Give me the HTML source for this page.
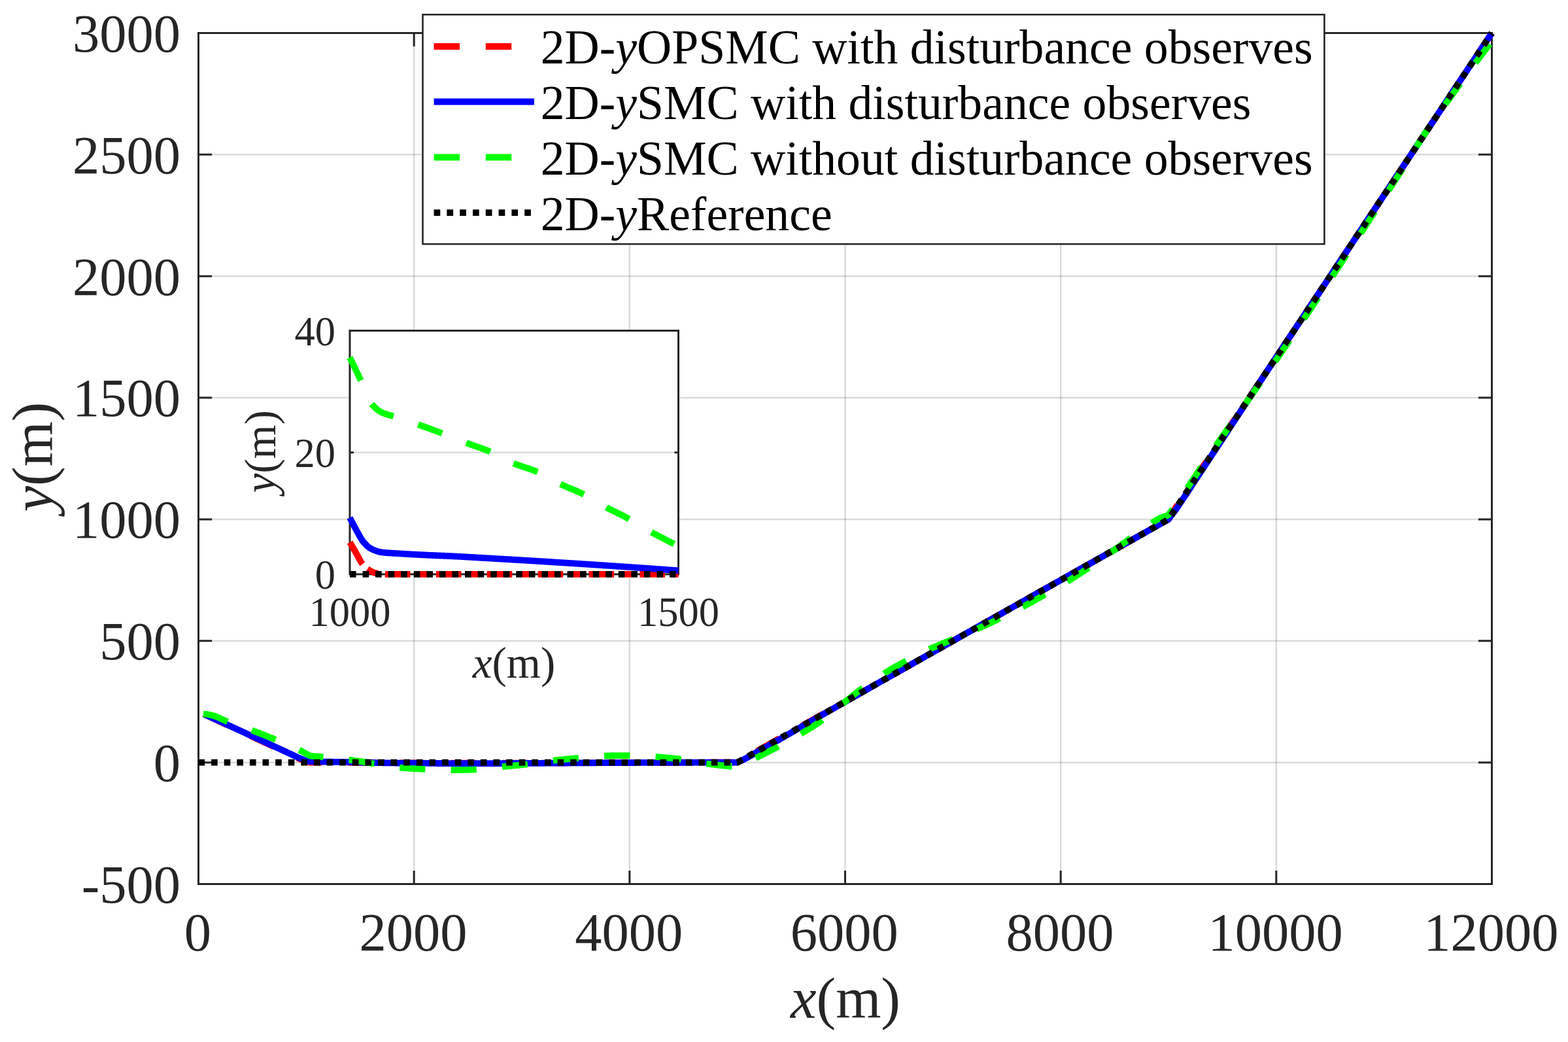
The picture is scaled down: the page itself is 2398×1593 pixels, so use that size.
<!DOCTYPE html><html><head><meta charset="utf-8"><title>plot</title><style>html,body{margin:0;padding:0;background:#fff;}svg{display:block;}</style></head><body><svg width="2398" height="1593" viewBox="0 0 2398 1593"><rect x="0" y="0" width="2398" height="1593" fill="#fff"/><defs><clipPath id="cm"><rect x="297.50" y="44.50" width="1990.00" height="1313.00"/></clipPath></defs><path d="M633.17 50.50V1351.50M962.83 50.50V1351.50M1292.50 50.50V1351.50M1622.17 50.50V1351.50M1951.83 50.50V1351.50" stroke="#262626" stroke-opacity="0.17" stroke-width="2.5" fill="none"/><path d="M303.50 1165.64H2281.50M303.50 979.79H2281.50M303.50 793.93H2281.50M303.50 608.07H2281.50M303.50 422.21H2281.50M303.50 236.36H2281.50" stroke="#262626" stroke-opacity="0.17" stroke-width="2.5" fill="none"/><path d="M303.50 1351.50v-20.60M303.50 50.50v20.60M633.17 1351.50v-20.60M633.17 50.50v20.60M962.83 1351.50v-20.60M962.83 50.50v20.60M1292.50 1351.50v-20.60M1292.50 50.50v20.60M1622.17 1351.50v-20.60M1622.17 50.50v20.60M1951.83 1351.50v-20.60M1951.83 50.50v20.60M2281.50 1351.50v-20.60M2281.50 50.50v20.60M303.50 1351.50h20.60M2281.50 1351.50h-20.60M303.50 1165.64h20.60M2281.50 1165.64h-20.60M303.50 979.79h20.60M2281.50 979.79h-20.60M303.50 793.93h20.60M2281.50 793.93h-20.60M303.50 608.07h20.60M2281.50 608.07h-20.60M303.50 422.21h20.60M2281.50 422.21h-20.60M303.50 236.36h20.60M2281.50 236.36h-20.60M303.50 50.50h20.60M2281.50 50.50h-20.60" stroke="#262626" stroke-width="3" fill="none"/><rect x="303.50" y="50.50" width="1978.00" height="1301.00" stroke="#262626" stroke-width="3" fill="none"/><g font-family="Liberation Serif, Times New Roman, serif" font-size="82.5" fill="#262626"><text x="302.30" y="1452.9" text-anchor="middle">0</text><text x="631.97" y="1452.9" text-anchor="middle">2000</text><text x="961.63" y="1452.9" text-anchor="middle">4000</text><text x="1291.30" y="1452.9" text-anchor="middle">6000</text><text x="1620.97" y="1452.9" text-anchor="middle">8000</text><text x="1950.63" y="1452.9" text-anchor="middle">10000</text><text x="2280.30" y="1452.9" text-anchor="middle">12000</text><text x="275.9" y="1379.80" text-anchor="end">-500</text><text x="275.9" y="1193.94" text-anchor="end">0</text><text x="275.9" y="1008.09" text-anchor="end">500</text><text x="275.9" y="822.23" text-anchor="end">1000</text><text x="275.9" y="636.37" text-anchor="end">1500</text><text x="275.9" y="450.51" text-anchor="end">2000</text><text x="275.9" y="264.66" text-anchor="end">2500</text><text x="275.9" y="78.80" text-anchor="end">3000</text></g><text x="1293" y="1556.3" text-anchor="middle" font-family="Liberation Serif, Times New Roman, serif" font-size="89" fill="#262626"><tspan font-style="italic">x</tspan>(m)</text><text transform="translate(79.5 698.5) rotate(-90)" text-anchor="middle" font-family="Liberation Serif, Times New Roman, serif" font-size="89" fill="#262626"><tspan font-style="italic">y</tspan>(m)</text><g clip-path="url(#cm)" fill="none" stroke-width="9.8" stroke-linejoin="round"><path d="M311.74 1091.67L312.57 1092.06L313.39 1092.44L314.21 1092.83L315.04 1093.21L315.86 1093.60L316.69 1093.98L317.51 1094.37L318.33 1094.75L319.16 1095.14L319.98 1095.52L320.81 1095.91L321.63 1096.29L322.46 1096.68L323.28 1097.06L324.10 1097.45L324.93 1097.83L325.75 1098.22L326.58 1098.60L327.40 1098.98L328.23 1099.37L329.05 1099.75L329.87 1100.14L330.70 1100.52L331.52 1100.91L332.35 1101.29L333.17 1101.68L333.99 1102.06L334.82 1102.44L335.64 1102.83L336.47 1103.21L337.29 1103.60L338.12 1103.98L338.94 1104.37L339.76 1104.75L340.59 1105.13L341.41 1105.52L342.24 1105.90L343.06 1106.29L343.88 1106.67L344.71 1107.05L345.53 1107.44L346.36 1107.82L347.18 1108.21L348.00 1108.59L348.83 1108.97L349.65 1109.36L350.48 1109.74L351.30 1110.13L352.13 1110.51L352.95 1110.89L353.77 1111.28L354.60 1111.66L355.42 1112.05L356.25 1112.43L357.07 1112.81L357.89 1113.20L358.72 1113.58L359.54 1113.97L360.37 1114.35L361.19 1114.74L362.02 1115.12L362.84 1115.50L363.66 1115.89L364.49 1116.27L365.31 1116.66L366.14 1117.04L366.96 1117.42L367.78 1117.81L368.61 1118.19L369.43 1118.58L370.26 1118.96L371.08 1119.34L371.91 1119.73L372.73 1120.11L373.55 1120.50L374.38 1120.88L375.20 1121.27L376.03 1121.65L376.85 1122.03L377.68 1122.42L378.50 1122.80L379.32 1123.19L380.15 1123.57L380.97 1123.95L381.80 1124.34L382.62 1124.72L383.44 1125.11L384.27 1125.49L385.09 1125.87L385.92 1126.26L386.74 1126.64L387.56 1127.03L388.39 1127.41L389.21 1127.80L390.04 1128.18L390.86 1128.56L391.69 1128.95L392.51 1129.33L393.33 1129.72L394.16 1130.10L394.98 1130.48L395.81 1130.87L396.63 1131.25L397.45 1131.64L398.28 1132.02L399.10 1132.40L399.93 1132.79L400.75 1133.17L401.58 1133.56L402.40 1133.94L403.22 1134.33L404.05 1134.71L404.87 1135.09L405.70 1135.48L406.52 1135.86L407.35 1136.25L408.17 1136.63L408.99 1137.02L409.82 1137.40L410.64 1137.78L411.47 1138.17L412.29 1138.55L413.11 1138.94L413.94 1139.32L414.76 1139.71L415.59 1140.09L416.41 1140.48L417.24 1140.86L418.06 1141.24L418.88 1141.63L419.71 1142.01L420.53 1142.40L421.36 1142.78L422.18 1143.16L423.00 1143.55L423.83 1143.93L424.65 1144.31L425.48 1144.70L426.30 1145.08L427.12 1145.47L427.95 1145.85L428.77 1146.23L429.60 1146.62L430.42 1147.00L431.25 1147.39L432.07 1147.77L432.89 1148.15L433.72 1148.54L434.54 1148.92L435.37 1149.31L436.19 1149.69L437.01 1150.08L437.84 1150.47L438.66 1150.85L439.49 1151.24L440.31 1151.63L441.14 1152.01L441.96 1152.40L442.78 1152.79L443.61 1153.18L444.43 1153.58L445.26 1153.99L446.08 1154.40L446.90 1154.81L447.73 1155.23L448.55 1155.65L449.38 1156.06L450.20 1156.48L451.03 1156.89L451.85 1157.30L452.67 1157.71L453.50 1158.11L454.32 1158.50L455.15 1158.89L455.97 1159.27L456.79 1159.64L457.62 1159.99L458.44 1160.34L459.27 1160.68L460.09 1161.00L460.92 1161.30L461.74 1161.58L462.56 1161.85L463.39 1162.11L464.21 1162.36L465.04 1162.61L465.86 1162.87L466.69 1163.14L467.51 1163.41L468.33 1163.71L469.16 1164.04L469.98 1164.38L470.81 1164.72L471.63 1165.03L472.45 1165.28L473.28 1165.41L474.10 1165.51L474.93 1165.57L475.75 1165.60L476.57 1165.62L477.40 1165.63L478.22 1165.64L479.05 1165.65L479.87 1165.65L480.70 1165.66L481.52 1165.67L482.34 1165.67L483.17 1165.68L483.99 1165.68L484.82 1165.68L485.64 1165.69L486.47 1165.69L487.29 1165.70L488.11 1165.70L488.94 1165.70L489.76 1165.71L490.59 1165.71L491.41 1165.72L492.23 1165.72L493.06 1165.72L493.88 1165.72L494.71 1165.73L495.53 1165.73L496.36 1165.73L497.18 1165.73L498.00 1165.74L498.83 1165.74L499.65 1165.74L500.48 1165.74L501.30 1165.74L502.12 1165.75L502.95 1165.75L503.77 1165.75L504.60 1165.75L505.42 1165.75L506.25 1165.76L507.07 1165.76L507.89 1165.76L508.72 1165.76L509.54 1165.76L510.37 1165.76L511.19 1165.76L512.01 1165.77L512.84 1165.77L513.66 1165.77L514.49 1165.77L515.31 1165.77L516.13 1165.77L516.96 1165.78L517.78 1165.78L518.61 1165.78L519.43 1165.78L520.26 1165.78L521.08 1165.78L521.90 1165.79L522.73 1165.79L523.55 1165.79L524.38 1165.79L525.20 1165.80L526.02 1165.80L526.85 1165.80L527.67 1165.80L528.50 1165.81L529.32 1165.81L530.15 1165.81L530.97 1165.81L531.79 1165.82L532.62 1165.82L533.44 1165.82L534.27 1165.83L535.09 1165.83L535.91 1165.84L536.74 1165.84L537.56 1165.85L538.39 1165.85L539.21 1165.85L540.04 1165.86L540.86 1165.86L541.68 1165.87L542.51 1165.88L543.33 1165.88L544.16 1165.89L544.98 1165.89L545.81 1165.90L546.63 1165.90L547.45 1165.91L548.28 1165.92L549.10 1165.92L549.93 1165.93L550.75 1165.93L551.57 1165.94L552.40 1165.95L553.22 1165.95L554.05 1165.96L554.87 1165.97L555.69 1165.97L556.52 1165.98L557.34 1165.99L558.17 1166.00L558.99 1166.00L559.82 1166.01L560.64 1166.02L561.46 1166.02L562.29 1166.03L563.11 1166.04L563.94 1166.04L564.76 1166.05L565.59 1166.06L566.41 1166.07L567.23 1166.07L568.06 1166.08L568.88 1166.09L569.71 1166.09L570.53 1166.10L571.35 1166.11L572.18 1166.11L573.00 1166.12L573.83 1166.13L574.65 1166.13L575.48 1166.14L576.30 1166.15L577.12 1166.15L577.95 1166.16L578.77 1166.17L579.60 1166.17L580.42 1166.18L581.24 1166.18L582.07 1166.19L582.89 1166.19L583.72 1166.20L584.54 1166.21L585.37 1166.21L586.19 1166.22L587.01 1166.22L587.84 1166.23L588.66 1166.23L589.49 1166.24L590.31 1166.25L591.13 1166.25L591.96 1166.26L592.78 1166.26L593.61 1166.27L594.43 1166.27L595.25 1166.28L596.08 1166.29L596.90 1166.29L597.73 1166.30L598.55 1166.30L599.38 1166.31L600.20 1166.31L601.02 1166.32L601.85 1166.33L602.67 1166.33L603.50 1166.34L604.32 1166.34L605.14 1166.35L605.97 1166.35L606.79 1166.36L607.62 1166.36L608.44 1166.37L609.27 1166.37L610.09 1166.38L610.91 1166.39L611.74 1166.39L612.56 1166.40L613.39 1166.40L614.21 1166.41L615.04 1166.41L615.86 1166.42L616.68 1166.42L617.51 1166.42L618.33 1166.43L619.16 1166.43L619.98 1166.44L620.80 1166.44L621.63 1166.45L622.45 1166.45L623.28 1166.46L624.10 1166.46L624.92 1166.46L625.75 1166.47L626.57 1166.47L627.40 1166.48L628.22 1166.48L629.05 1166.48L629.87 1166.49L630.69 1166.49L631.52 1166.49L632.34 1166.49L633.17 1166.50L633.99 1166.50L634.82 1166.50L635.64 1166.51L636.46 1166.51L637.29 1166.51L638.11 1166.51L638.94 1166.52L639.76 1166.52L640.58 1166.52L641.41 1166.53L642.23 1166.53L643.06 1166.53L643.88 1166.53L644.70 1166.54L645.53 1166.54L646.35 1166.54L647.18 1166.54L648.00 1166.55L648.83 1166.55L649.65 1166.55L650.47 1166.56L651.30 1166.56L652.12 1166.56L652.95 1166.56L653.77 1166.57L654.60 1166.57L655.42 1166.57L656.24 1166.57L657.07 1166.58L657.89 1166.58L658.72 1166.58L659.54 1166.58L660.36 1166.59L661.19 1166.59L662.01 1166.59L662.84 1166.59L663.66 1166.60L664.49 1166.60L665.31 1166.60L666.13 1166.60L666.96 1166.61L667.78 1166.61L668.61 1166.61L669.43 1166.61L670.25 1166.62L671.08 1166.62L671.90 1166.62L672.73 1166.62L673.55 1166.62L674.38 1166.63L675.20 1166.63L676.02 1166.63L676.85 1166.63L677.67 1166.63L678.50 1166.64L679.32 1166.64L680.14 1166.64L680.97 1166.64L681.79 1166.64L682.62 1166.65L683.44 1166.65L684.26 1166.65L685.09 1166.65L685.91 1166.65L686.74 1166.65L687.56 1166.66L688.39 1166.66L689.21 1166.66L690.03 1166.66L690.86 1166.66L691.68 1166.66L692.51 1166.66L693.33 1166.67L694.15 1166.67L694.98 1166.67L695.80 1166.67L696.63 1166.67L697.45 1166.67L698.28 1166.67L699.10 1166.67L699.92 1166.67L700.75 1166.68L701.57 1166.68L702.40 1166.68L703.22 1166.68L704.05 1166.68L704.87 1166.68L705.69 1166.68L706.52 1166.68L707.34 1166.68L708.17 1166.68L708.99 1166.68L709.81 1166.68L710.64 1166.68L711.46 1166.68L712.29 1166.68L713.11 1166.68L713.93 1166.68L714.76 1166.68L715.58 1166.68L716.41 1166.68L717.23 1166.68L718.06 1166.68L718.88 1166.68L719.70 1166.68L720.53 1166.68L721.35 1166.68L722.18 1166.68L723.00 1166.68L723.83 1166.68L724.65 1166.68L725.47 1166.68L726.30 1166.68L727.12 1166.68L727.95 1166.68L728.77 1166.68L729.59 1166.68L730.42 1166.68L731.24 1166.68L732.07 1166.68L732.89 1166.68L733.71 1166.68L734.54 1166.68L735.36 1166.67L736.19 1166.67L737.01 1166.67L737.84 1166.67L738.66 1166.67L739.48 1166.67L740.31 1166.67L741.13 1166.67L741.96 1166.67L742.78 1166.67L743.61 1166.67L744.43 1166.67L745.25 1166.66L746.08 1166.66L746.90 1166.66L747.73 1166.66L748.55 1166.66L749.37 1166.66L750.20 1166.66L751.02 1166.66L751.85 1166.66L752.67 1166.66L753.50 1166.65L754.32 1166.65L755.14 1166.65L755.97 1166.65L756.79 1166.65L757.62 1166.65L758.44 1166.65L759.26 1166.65L760.09 1166.64L760.91 1166.64L761.74 1166.64L762.56 1166.64L763.38 1166.64L764.21 1166.64L765.03 1166.64L765.86 1166.63L766.68 1166.63L767.51 1166.63L768.33 1166.63L769.15 1166.63L769.98 1166.63L770.80 1166.63L771.63 1166.62L772.45 1166.62L773.27 1166.62L774.10 1166.62L774.92 1166.62L775.75 1166.62L776.57 1166.62L777.40 1166.61L778.22 1166.61L779.04 1166.61L779.87 1166.61L780.69 1166.61L781.52 1166.61L782.34 1166.60L783.16 1166.60L783.99 1166.60L784.81 1166.60L785.64 1166.60L786.46 1166.60L787.29 1166.59L788.11 1166.59L788.93 1166.59L789.76 1166.59L790.58 1166.59L791.41 1166.59L792.23 1166.58L793.06 1166.58L793.88 1166.58L794.70 1166.58L795.53 1166.58L796.35 1166.58L797.18 1166.57L798.00 1166.57L798.82 1166.57L799.65 1166.57L800.47 1166.57L801.30 1166.56L802.12 1166.56L802.94 1166.56L803.77 1166.56L804.59 1166.56L805.42 1166.55L806.24 1166.55L807.07 1166.55L807.89 1166.55L808.71 1166.54L809.54 1166.54L810.36 1166.54L811.19 1166.53L812.01 1166.53L812.84 1166.53L813.66 1166.53L814.48 1166.52L815.31 1166.52L816.13 1166.52L816.96 1166.51L817.78 1166.51L818.60 1166.51L819.43 1166.50L820.25 1166.50L821.08 1166.49L821.90 1166.49L822.73 1166.49L823.55 1166.48L824.37 1166.48L825.20 1166.48L826.02 1166.47L826.85 1166.47L827.67 1166.46L828.49 1166.46L829.32 1166.46L830.14 1166.45L830.97 1166.45L831.79 1166.44L832.62 1166.44L833.44 1166.44L834.26 1166.43L835.09 1166.43L835.91 1166.42L836.74 1166.42L837.56 1166.41L838.38 1166.41L839.21 1166.41L840.03 1166.40L840.86 1166.40L841.68 1166.39L842.50 1166.39L843.33 1166.38L844.15 1166.38L844.98 1166.38L845.80 1166.37L846.63 1166.37L847.45 1166.36L848.27 1166.36L849.10 1166.35L849.92 1166.35L850.75 1166.34L851.57 1166.34L852.39 1166.34L853.22 1166.33L854.04 1166.33L854.87 1166.32L855.69 1166.32L856.52 1166.31L857.34 1166.31L858.16 1166.31L858.99 1166.30L859.81 1166.30L860.64 1166.29L861.46 1166.29L862.28 1166.28L863.11 1166.28L863.93 1166.28L864.76 1166.27L865.58 1166.27L866.41 1166.26L867.23 1166.26L868.05 1166.26L868.88 1166.25L869.70 1166.25L870.53 1166.24L871.35 1166.24L872.17 1166.24L873.00 1166.23L873.82 1166.23L874.65 1166.22L875.47 1166.22L876.30 1166.22L877.12 1166.21L877.94 1166.21L878.77 1166.21L879.59 1166.20L880.42 1166.20L881.24 1166.20L882.07 1166.19L882.89 1166.19L883.71 1166.19L884.54 1166.18L885.36 1166.18L886.19 1166.18L887.01 1166.17L887.83 1166.17L888.66 1166.17L889.48 1166.16L890.31 1166.16L891.13 1166.16L891.96 1166.15L892.78 1166.15L893.60 1166.15L894.43 1166.14L895.25 1166.14L896.08 1166.14L896.90 1166.13L897.72 1166.13L898.55 1166.13L899.37 1166.12L900.20 1166.12L901.02 1166.12L901.85 1166.11L902.67 1166.11L903.49 1166.11L904.32 1166.11L905.14 1166.10L905.97 1166.10L906.79 1166.10L907.61 1166.09L908.44 1166.09L909.26 1166.09L910.09 1166.08L910.91 1166.08L911.74 1166.08L912.56 1166.07L913.38 1166.07L914.21 1166.07L915.03 1166.06L915.86 1166.06L916.68 1166.06L917.50 1166.05L918.33 1166.05L919.15 1166.05L919.98 1166.05L920.80 1166.04L921.62 1166.04L922.45 1166.04L923.27 1166.03L924.10 1166.03L924.92 1166.03L925.75 1166.02L926.57 1166.02L927.39 1166.02L928.22 1166.01L929.04 1166.01L929.87 1166.01L930.69 1166.01L931.51 1166.00L932.34 1166.00L933.16 1166.00L933.99 1165.99L934.81 1165.99L935.64 1165.99L936.46 1165.99L937.28 1165.98L938.11 1165.98L938.93 1165.98L939.76 1165.97L940.58 1165.97L941.40 1165.97L942.23 1165.97L943.05 1165.96L943.88 1165.96L944.70 1165.96L945.53 1165.96L946.35 1165.95L947.17 1165.95L948.00 1165.95L948.82 1165.94L949.65 1165.94L950.47 1165.94L951.29 1165.94L952.12 1165.93L952.94 1165.93L953.77 1165.93L954.59 1165.93L955.42 1165.92L956.24 1165.92L957.06 1165.92L957.89 1165.92L958.71 1165.91L959.54 1165.91L960.36 1165.91L961.18 1165.91L962.01 1165.91L962.83 1165.90L963.66 1165.90L964.48 1165.90L965.31 1165.90L966.13 1165.89L966.95 1165.89L967.78 1165.89L968.60 1165.89L969.43 1165.88L970.25 1165.88L971.08 1165.88L971.90 1165.88L972.72 1165.88L973.55 1165.87L974.37 1165.87L975.20 1165.87L976.02 1165.87L976.84 1165.86L977.67 1165.86L978.49 1165.86L979.32 1165.86L980.14 1165.86L980.97 1165.85L981.79 1165.85L982.61 1165.85L983.44 1165.85L984.26 1165.84L985.09 1165.84L985.91 1165.84L986.73 1165.84L987.56 1165.84L988.38 1165.83L989.21 1165.83L990.03 1165.83L990.86 1165.83L991.68 1165.83L992.50 1165.82L993.33 1165.82L994.15 1165.82L994.98 1165.82L995.80 1165.81L996.62 1165.81L997.45 1165.81L998.27 1165.81L999.10 1165.81L999.92 1165.80L1000.75 1165.80L1001.57 1165.80L1002.39 1165.80L1003.22 1165.80L1004.04 1165.79L1004.87 1165.79L1005.69 1165.79L1006.51 1165.79L1007.34 1165.79L1008.16 1165.79L1008.99 1165.78L1009.81 1165.78L1010.63 1165.78L1011.46 1165.78L1012.28 1165.78L1013.11 1165.77L1013.93 1165.77L1014.76 1165.77L1015.58 1165.77L1016.40 1165.77L1017.23 1165.77L1018.05 1165.76L1018.88 1165.76L1019.70 1165.76L1020.52 1165.76L1021.35 1165.76L1022.17 1165.76L1023.00 1165.75L1023.82 1165.75L1024.65 1165.75L1025.47 1165.75L1026.29 1165.75L1027.12 1165.75L1027.94 1165.74L1028.77 1165.74L1029.59 1165.74L1030.41 1165.74L1031.24 1165.74L1032.06 1165.74L1032.89 1165.74L1033.71 1165.73L1034.54 1165.73L1035.36 1165.73L1036.18 1165.73L1037.01 1165.73L1037.83 1165.73L1038.66 1165.73L1039.48 1165.73L1040.30 1165.72L1041.13 1165.72L1041.95 1165.72L1042.78 1165.72L1043.60 1165.72L1044.43 1165.72L1045.25 1165.72L1046.07 1165.72L1046.90 1165.72L1047.72 1165.71L1048.55 1165.71L1049.37 1165.71L1050.20 1165.71L1051.02 1165.71L1051.84 1165.71L1052.67 1165.71L1053.49 1165.71L1054.32 1165.71L1055.14 1165.70L1055.96 1165.70L1056.79 1165.70L1057.61 1165.70L1058.44 1165.70L1059.26 1165.70L1060.09 1165.70L1060.91 1165.70L1061.73 1165.70L1062.56 1165.70L1063.38 1165.69L1064.21 1165.69L1065.03 1165.69L1065.85 1165.69L1066.68 1165.69L1067.50 1165.69L1068.33 1165.69L1069.15 1165.69L1069.97 1165.69L1070.80 1165.69L1071.62 1165.68L1072.45 1165.68L1073.27 1165.68L1074.10 1165.68L1074.92 1165.68L1075.74 1165.68L1076.57 1165.68L1077.39 1165.68L1078.22 1165.68L1079.04 1165.68L1079.87 1165.68L1080.69 1165.67L1081.51 1165.67L1082.34 1165.67L1083.16 1165.67L1083.99 1165.67L1084.81 1165.67L1085.63 1165.67L1086.46 1165.67L1087.28 1165.67L1088.11 1165.67L1088.93 1165.67L1089.76 1165.67L1090.58 1165.67L1091.40 1165.66L1092.23 1165.66L1093.05 1165.66L1093.88 1165.66L1094.70 1165.66L1095.52 1165.66L1096.35 1165.66L1097.17 1165.66L1098.00 1165.66L1098.82 1165.66L1099.64 1165.66L1100.47 1165.66L1101.29 1165.66L1102.12 1165.66L1102.94 1165.65L1103.77 1165.65L1104.59 1165.65L1105.41 1165.65L1106.24 1165.65L1107.06 1165.65L1107.89 1165.65L1108.71 1165.65L1109.53 1165.65L1110.36 1165.65L1111.18 1165.65L1112.01 1165.65L1112.83 1165.65L1113.66 1165.65L1114.48 1165.65L1115.30 1165.65L1116.13 1165.65L1116.95 1165.65L1117.78 1165.65L1118.60 1165.65L1119.42 1165.65L1120.25 1165.65L1121.07 1165.64L1121.90 1165.64L1122.72 1165.64L1123.55 1165.64L1124.37 1165.64L1125.19 1165.64L1126.02 1165.64L1126.84 1165.64L1127.67 1165.64L1129.32 1164.64L1130.96 1163.64L1132.61 1162.63L1134.26 1161.63L1135.91 1160.64L1137.56 1159.66L1139.20 1158.70L1140.85 1157.76L1142.50 1156.83L1144.15 1155.90L1145.80 1154.97L1147.45 1154.05L1149.10 1153.12L1150.74 1152.19L1152.39 1151.26L1154.04 1150.33L1155.69 1149.40L1157.34 1148.47L1158.99 1147.54L1160.63 1146.61L1162.28 1145.68L1163.93 1144.75L1165.58 1143.82L1167.23 1142.89L1168.88 1141.96L1170.52 1141.04L1172.17 1140.11L1173.82 1139.18L1175.47 1138.25L1177.12 1137.32L1178.76 1136.39L1180.41 1135.46L1182.06 1134.53L1183.71 1133.60L1185.36 1132.68L1187.01 1131.75L1188.65 1130.82L1190.30 1129.90L1191.95 1128.97L1193.60 1128.05L1195.25 1127.12L1196.90 1126.20L1198.55 1125.27L1200.19 1124.35L1201.84 1123.42L1203.49 1122.50L1205.14 1121.58L1206.79 1120.65L1208.43 1119.73L1210.08 1118.81L1211.73 1117.88L1213.38 1116.96L1215.03 1116.04L1216.68 1115.12L1218.33 1114.19L1219.97 1113.27L1221.62 1112.35L1223.27 1111.43L1224.92 1110.50L1226.57 1109.58L1228.22 1108.66L1229.86 1107.74L1231.51 1106.82L1233.16 1105.89L1234.81 1104.97L1236.46 1104.05L1238.11 1103.13L1239.75 1102.20L1241.40 1101.28L1243.05 1100.36L1244.70 1099.43L1246.35 1098.51L1247.99 1097.59L1249.64 1096.66L1251.29 1095.74L1252.94 1094.81L1254.59 1093.89L1256.24 1092.96L1257.88 1092.04L1259.53 1091.11L1261.18 1090.19L1262.83 1089.26L1264.48 1088.34L1266.13 1087.41L1267.78 1086.49L1269.42 1085.56L1271.07 1084.63L1272.72 1083.71L1274.37 1082.78L1276.02 1081.86L1277.66 1080.93L1279.31 1080.01L1280.96 1079.08L1282.61 1078.16L1284.26 1077.23L1285.91 1076.30L1287.55 1075.38L1289.20 1074.45L1290.85 1073.53L1292.50 1072.60L1294.15 1071.68L1295.80 1070.75L1297.45 1069.82L1299.09 1068.90L1300.74 1067.97L1302.39 1067.05L1304.04 1066.12L1305.69 1065.20L1307.34 1064.27L1308.98 1063.34L1310.63 1062.42L1312.28 1061.49L1313.93 1060.57L1315.58 1059.64L1317.22 1058.71L1318.87 1057.79L1320.52 1056.86L1322.17 1055.93L1323.82 1055.01L1325.47 1054.08L1327.12 1053.16L1328.76 1052.23L1330.41 1051.30L1332.06 1050.38L1333.71 1049.45L1335.36 1048.52L1337.01 1047.59L1338.65 1046.67L1340.30 1045.74L1341.95 1044.81L1343.60 1043.89L1345.25 1042.96L1346.89 1042.03L1348.54 1041.10L1350.19 1040.18L1351.84 1039.25L1353.49 1038.32L1355.14 1037.39L1356.79 1036.47L1358.43 1035.54L1360.08 1034.61L1361.73 1033.68L1363.38 1032.75L1365.03 1031.82L1366.67 1030.89L1368.32 1029.97L1369.97 1029.04L1371.62 1028.11L1373.27 1027.18L1374.92 1026.25L1376.57 1025.32L1378.21 1024.39L1379.86 1023.46L1381.51 1022.53L1383.16 1021.60L1384.81 1020.67L1386.45 1019.75L1388.10 1018.82L1389.75 1017.89L1391.40 1016.96L1393.05 1016.03L1394.70 1015.10L1396.35 1014.17L1397.99 1013.24L1399.64 1012.31L1401.29 1011.38L1402.94 1010.45L1404.59 1009.52L1406.23 1008.59L1407.88 1007.66L1409.53 1006.74L1411.18 1005.81L1412.83 1004.88L1414.48 1003.95L1416.12 1003.02L1417.77 1002.09L1419.42 1001.16L1421.07 1000.23L1422.72 999.30L1424.37 998.37L1426.02 997.44L1427.66 996.51L1429.31 995.58L1430.96 994.65L1432.61 993.73L1434.26 992.80L1435.90 991.87L1437.55 990.94L1439.20 990.01L1440.85 989.08L1442.50 988.15L1444.15 987.22L1445.80 986.29L1447.44 985.36L1449.09 984.43L1450.74 983.50L1452.39 982.57L1454.04 981.64L1455.68 980.71L1457.33 979.79L1458.98 978.86L1460.63 977.93L1462.28 977.00L1463.93 976.07L1465.58 975.14L1467.22 974.21L1468.87 973.28L1470.52 972.35L1472.17 971.42L1473.82 970.49L1475.46 969.56L1477.11 968.63L1478.76 967.70L1480.41 966.78L1482.06 965.85L1483.71 964.92L1485.36 963.99L1487.00 963.06L1488.65 962.13L1490.30 961.20L1491.95 960.27L1493.60 959.34L1495.24 958.41L1496.89 957.48L1498.54 956.55L1500.19 955.62L1501.84 954.69L1503.49 953.77L1505.13 952.84L1506.78 951.91L1508.43 950.98L1510.08 950.05L1511.73 949.12L1513.38 948.19L1515.03 947.26L1516.67 946.33L1518.32 945.40L1519.97 944.47L1521.62 943.54L1523.27 942.61L1524.91 941.68L1526.56 940.76L1528.21 939.83L1529.86 938.90L1531.51 937.97L1533.16 937.04L1534.81 936.11L1536.45 935.18L1538.10 934.25L1539.75 933.32L1541.40 932.39L1543.05 931.46L1544.69 930.53L1546.34 929.60L1547.99 928.67L1549.64 927.75L1551.29 926.82L1552.94 925.89L1554.59 924.96L1556.23 924.03L1557.88 923.10L1559.53 922.17L1561.18 921.24L1562.83 920.31L1564.47 919.38L1566.12 918.45L1567.77 917.52L1569.42 916.59L1571.07 915.66L1572.72 914.74L1574.37 913.81L1576.01 912.88L1577.66 911.95L1579.31 911.02L1580.96 910.09L1582.61 909.16L1584.26 908.23L1585.90 907.30L1587.55 906.37L1589.20 905.44L1590.85 904.51L1592.50 903.58L1594.14 902.65L1595.79 901.73L1597.44 900.80L1599.09 899.87L1600.74 898.94L1602.39 898.01L1604.04 897.08L1605.68 896.15L1607.33 895.22L1608.98 894.29L1610.63 893.36L1612.28 892.43L1613.92 891.50L1615.57 890.57L1617.22 889.64L1618.87 888.72L1620.52 887.79L1622.17 886.86L1623.82 885.93L1625.46 885.00L1627.11 884.07L1628.76 883.14L1630.41 882.21L1632.06 881.28L1633.70 880.35L1635.35 879.42L1637.00 878.49L1638.65 877.56L1640.30 876.63L1641.95 875.71L1643.60 874.78L1645.24 873.85L1646.89 872.92L1648.54 871.99L1650.19 871.06L1651.84 870.13L1653.48 869.20L1655.13 868.27L1656.78 867.34L1658.43 866.41L1660.08 865.48L1661.73 864.55L1663.38 863.62L1665.02 862.70L1666.67 861.77L1668.32 860.84L1669.97 859.91L1671.62 858.98L1673.27 858.05L1674.91 857.12L1676.56 856.19L1678.21 855.26L1679.86 854.33L1681.51 853.40L1683.15 852.47L1684.80 851.54L1686.45 850.62L1688.10 849.69L1689.75 848.76L1691.40 847.83L1693.05 846.90L1694.69 845.97L1696.34 845.04L1697.99 844.11L1699.64 843.18L1701.29 842.25L1702.93 841.32L1704.58 840.39L1706.23 839.46L1707.88 838.53L1709.53 837.61L1711.18 836.68L1712.83 835.75L1714.47 834.82L1716.12 833.89L1717.77 832.96L1719.42 832.03L1721.07 831.10L1722.71 830.17L1724.36 829.24L1726.01 828.31L1727.66 827.38L1729.31 826.45L1730.96 825.52L1732.61 824.60L1734.25 823.67L1735.90 822.74L1737.55 821.81L1739.20 820.88L1740.85 819.95L1742.49 819.02L1744.14 818.09L1745.79 817.16L1747.44 816.23L1749.09 815.30L1750.74 814.37L1752.38 813.44L1754.03 812.51L1755.68 811.59L1757.33 810.66L1758.98 809.73L1760.63 808.80L1762.28 807.87L1763.92 806.94L1765.57 806.01L1767.22 805.08L1768.87 804.15L1770.52 803.22L1772.16 802.29L1773.81 801.36L1775.46 800.43L1777.11 799.50L1778.76 798.58L1780.41 797.65L1782.06 796.72L1783.70 795.79L1785.35 794.86L1787.00 793.93L1788.65 791.39L1790.30 788.74L1791.94 786.02L1793.59 783.27L1795.24 780.52L1796.89 777.81L1798.54 775.16L1800.19 772.62L1801.84 770.14L1803.48 767.66L1805.13 765.19L1806.78 762.71L1808.43 760.24L1810.08 757.77L1811.72 755.30L1813.37 752.83L1815.02 750.36L1816.67 747.89L1818.32 745.42L1819.97 742.96L1821.62 740.49L1823.26 738.03L1824.91 735.56L1826.56 733.10L1828.21 730.63L1829.86 728.17L1831.51 725.71L1833.15 723.24L1834.80 720.78L1836.45 718.32L1838.10 715.86L1839.75 713.39L1841.39 710.93L1843.04 708.47L1844.69 706.01L1846.34 703.54L1847.99 701.08L1849.64 698.62L1851.29 696.15L1852.93 693.69L1854.58 691.23L1856.23 688.76L1857.88 686.30L1859.53 683.84L1861.17 681.38L1862.82 678.92L1864.47 676.46L1866.12 674.00L1867.77 671.55L1869.42 669.09L1871.07 666.63L1872.71 664.18L1874.36 661.72L1876.01 659.27L1877.66 656.81L1879.31 654.36L1880.95 651.90L1882.60 649.45L1884.25 646.99L1885.90 644.54L1887.55 642.09L1889.20 639.63L1890.85 637.18L1892.49 634.73L1894.14 632.28L1895.79 629.82L1897.44 627.37L1899.09 624.92L1900.73 622.46L1902.38 620.01L1904.03 617.56L1905.68 615.10L1907.33 612.65L1908.98 610.19L1910.62 607.74L1912.27 605.28L1913.92 602.83L1915.57 600.37L1917.22 597.91L1918.87 595.45L1920.52 593.00L1922.16 590.54L1923.81 588.08L1925.46 585.62L1927.11 583.16L1928.76 580.69L1930.40 578.23L1932.05 575.77L1933.70 573.30L1935.35 570.84L1937.00 568.37L1938.65 565.90L1940.30 563.43L1941.94 560.96L1943.59 558.49L1945.24 556.02L1946.89 553.55L1948.54 551.07L1950.18 548.60L1951.83 546.12L1953.48 543.64L1955.13 541.16L1956.78 538.68L1958.43 536.21L1960.08 533.73L1961.72 531.25L1963.37 528.77L1965.02 526.29L1966.67 523.82L1968.32 521.34L1969.96 518.86L1971.61 516.38L1973.26 513.90L1974.91 511.43L1976.56 508.95L1978.21 506.47L1979.86 503.99L1981.50 501.51L1983.15 499.04L1984.80 496.56L1986.45 494.08L1988.10 491.60L1989.74 489.12L1991.39 486.64L1993.04 484.17L1994.69 481.69L1996.34 479.21L1997.99 476.73L1999.63 474.25L2001.28 471.78L2002.93 469.30L2004.58 466.82L2006.23 464.34L2007.88 461.86L2009.53 459.39L2011.17 456.91L2012.82 454.43L2014.47 451.95L2016.12 449.47L2017.77 447.00L2019.41 444.52L2021.06 442.04L2022.71 439.56L2024.36 437.08L2026.01 434.60L2027.66 432.13L2029.31 429.65L2030.95 427.17L2032.60 424.69L2034.25 422.21L2035.90 419.74L2037.55 417.26L2039.19 414.78L2040.84 412.30L2042.49 409.82L2044.14 407.35L2045.79 404.87L2047.44 402.39L2049.09 399.91L2050.73 397.43L2052.38 394.96L2054.03 392.48L2055.68 390.00L2057.33 387.52L2058.97 385.04L2060.62 382.56L2062.27 380.09L2063.92 377.61L2065.57 375.13L2067.22 372.65L2068.86 370.17L2070.51 367.70L2072.16 365.22L2073.81 362.74L2075.46 360.26L2077.11 357.78L2078.76 355.31L2080.40 352.83L2082.05 350.35L2083.70 347.87L2085.35 345.39L2087.00 342.92L2088.64 340.44L2090.29 337.96L2091.94 335.48L2093.59 333.00L2095.24 330.52L2096.89 328.05L2098.53 325.57L2100.18 323.09L2101.83 320.61L2103.48 318.13L2105.13 315.66L2106.78 313.18L2108.43 310.70L2110.07 308.22L2111.72 305.74L2113.37 303.27L2115.02 300.79L2116.67 298.31L2118.32 295.83L2119.96 293.35L2121.61 290.88L2123.26 288.40L2124.91 285.92L2126.56 283.44L2128.20 280.96L2129.85 278.48L2131.50 276.01L2133.15 273.53L2134.80 271.05L2136.45 268.57L2138.10 266.09L2139.74 263.62L2141.39 261.14L2143.04 258.66L2144.69 256.18L2146.34 253.70L2147.98 251.23L2149.63 248.75L2151.28 246.27L2152.93 243.79L2154.58 241.31L2156.23 238.84L2157.88 236.36L2159.52 233.88L2161.17 231.40L2162.82 228.92L2164.47 226.44L2166.12 223.97L2167.77 221.49L2169.41 219.01L2171.06 216.53L2172.71 214.05L2174.36 211.58L2176.01 209.10L2177.65 206.62L2179.30 204.14L2180.95 201.66L2182.60 199.19L2184.25 196.71L2185.90 194.23L2187.55 191.75L2189.19 189.27L2190.84 186.80L2192.49 184.32L2194.14 181.84L2195.79 179.36L2197.43 176.88L2199.08 174.40L2200.73 171.93L2202.38 169.45L2204.03 166.97L2205.68 164.49L2207.32 162.01L2208.97 159.54L2210.62 157.06L2212.27 154.58L2213.92 152.10L2215.57 149.62L2217.22 147.15L2218.86 144.67L2220.51 142.19L2222.16 139.71L2223.81 137.23L2225.46 134.76L2227.11 132.28L2228.75 129.80L2230.40 127.32L2232.05 124.84L2233.70 122.36L2235.35 119.89L2236.99 117.41L2238.64 114.93L2240.29 112.45L2241.94 109.97L2243.59 107.50L2245.24 105.02L2246.89 102.54L2248.53 100.06L2250.18 97.58L2251.83 95.11L2253.48 92.63L2255.13 90.15L2256.78 87.67L2258.42 85.19L2260.07 82.72L2261.72 80.24L2263.37 77.76L2265.02 75.28L2266.66 72.80L2268.31 70.32L2269.96 67.85L2271.61 65.37L2273.26 62.89L2274.91 60.41L2276.56 57.93L2278.20 55.46L2279.85 52.98L2281.50 50.50" stroke="#ff0000" stroke-dasharray="39.2 39.6"/><path d="M311.74 1091.60L312.57 1091.97L313.39 1092.35L314.21 1092.73L315.04 1093.11L315.86 1093.48L316.69 1093.86L317.51 1094.24L318.33 1094.61L319.16 1094.99L319.98 1095.37L320.81 1095.74L321.63 1096.12L322.46 1096.50L323.28 1096.88L324.10 1097.25L324.93 1097.63L325.75 1098.01L326.58 1098.38L327.40 1098.76L328.23 1099.14L329.05 1099.52L329.87 1099.89L330.70 1100.27L331.52 1100.65L332.35 1101.02L333.17 1101.40L333.99 1101.78L334.82 1102.16L335.64 1102.53L336.47 1102.91L337.29 1103.29L338.12 1103.66L338.94 1104.04L339.76 1104.42L340.59 1104.79L341.41 1105.17L342.24 1105.55L343.06 1105.93L343.88 1106.30L344.71 1106.68L345.53 1107.06L346.36 1107.44L347.18 1107.81L348.00 1108.19L348.83 1108.57L349.65 1108.94L350.48 1109.32L351.30 1109.70L352.13 1110.08L352.95 1110.45L353.77 1110.83L354.60 1111.21L355.42 1111.59L356.25 1111.97L357.07 1112.34L357.89 1112.72L358.72 1113.10L359.54 1113.48L360.37 1113.86L361.19 1114.23L362.02 1114.61L362.84 1114.99L363.66 1115.37L364.49 1115.75L365.31 1116.13L366.14 1116.51L366.96 1116.88L367.78 1117.26L368.61 1117.64L369.43 1118.02L370.26 1118.40L371.08 1118.78L371.91 1119.16L372.73 1119.54L373.55 1119.92L374.38 1120.30L375.20 1120.68L376.03 1121.06L376.85 1121.44L377.68 1121.82L378.50 1122.20L379.32 1122.58L380.15 1122.96L380.97 1123.34L381.80 1123.72L382.62 1124.11L383.44 1124.49L384.27 1124.87L385.09 1125.25L385.92 1125.63L386.74 1126.01L387.56 1126.39L388.39 1126.77L389.21 1127.16L390.04 1127.54L390.86 1127.92L391.69 1128.30L392.51 1128.68L393.33 1129.06L394.16 1129.45L394.98 1129.83L395.81 1130.21L396.63 1130.59L397.45 1130.97L398.28 1131.35L399.10 1131.73L399.93 1132.12L400.75 1132.50L401.58 1132.88L402.40 1133.26L403.22 1133.64L404.05 1134.02L404.87 1134.40L405.70 1134.79L406.52 1135.17L407.35 1135.55L408.17 1135.93L408.99 1136.31L409.82 1136.69L410.64 1137.07L411.47 1137.45L412.29 1137.83L413.11 1138.21L413.94 1138.59L414.76 1138.97L415.59 1139.35L416.41 1139.73L417.24 1140.11L418.06 1140.49L418.88 1140.87L419.71 1141.25L420.53 1141.63L421.36 1142.01L422.18 1142.39L423.00 1142.77L423.83 1143.14L424.65 1143.52L425.48 1143.90L426.30 1144.28L427.12 1144.66L427.95 1145.03L428.77 1145.41L429.60 1145.79L430.42 1146.17L431.25 1146.55L432.07 1146.93L432.89 1147.30L433.72 1147.68L434.54 1148.06L435.37 1148.44L436.19 1148.82L437.01 1149.20L437.84 1149.58L438.66 1149.96L439.49 1150.34L440.31 1150.71L441.14 1151.10L441.96 1151.48L442.78 1151.86L443.61 1152.24L444.43 1152.63L445.26 1153.02L446.08 1153.41L446.90 1153.81L447.73 1154.20L448.55 1154.60L449.38 1155.00L450.20 1155.39L451.03 1155.79L451.85 1156.18L452.67 1156.57L453.50 1156.96L454.32 1157.34L455.15 1157.72L455.97 1158.10L456.79 1158.47L457.62 1158.83L458.44 1159.19L459.27 1159.54L460.09 1159.88L460.92 1160.22L461.74 1160.55L462.56 1160.89L463.39 1161.21L464.21 1161.52L465.04 1161.82L465.86 1162.11L466.69 1162.37L467.51 1162.61L468.33 1162.84L469.16 1163.05L469.98 1163.26L470.81 1163.48L471.63 1163.67L472.45 1163.85L473.28 1164.00L474.10 1164.11L474.93 1164.20L475.75 1164.27L476.57 1164.31L477.40 1164.34L478.22 1164.36L479.05 1164.37L479.87 1164.38L480.70 1164.40L481.52 1164.41L482.34 1164.42L483.17 1164.43L483.99 1164.45L484.82 1164.46L485.64 1164.47L486.47 1164.48L487.29 1164.49L488.11 1164.50L488.94 1164.51L489.76 1164.52L490.59 1164.53L491.41 1164.54L492.23 1164.55L493.06 1164.56L493.88 1164.58L494.71 1164.59L495.53 1164.60L496.36 1164.60L497.18 1164.61L498.00 1164.62L498.83 1164.63L499.65 1164.64L500.48 1164.66L501.30 1164.67L502.12 1164.68L502.95 1164.69L503.77 1164.70L504.60 1164.71L505.42 1164.72L506.25 1164.73L507.07 1164.75L507.89 1164.76L508.72 1164.77L509.54 1164.78L510.37 1164.80L511.19 1164.81L512.01 1164.82L512.84 1164.83L513.66 1164.84L514.49 1164.86L515.31 1164.87L516.13 1164.88L516.96 1164.90L517.78 1164.91L518.61 1164.92L519.43 1164.93L520.26 1164.95L521.08 1164.96L521.90 1164.97L522.73 1164.98L523.55 1165.00L524.38 1165.01L525.20 1165.02L526.02 1165.04L526.85 1165.05L527.67 1165.06L528.50 1165.07L529.32 1165.09L530.15 1165.10L530.97 1165.11L531.79 1165.13L532.62 1165.14L533.44 1165.15L534.27 1165.17L535.09 1165.18L535.91 1165.19L536.74 1165.21L537.56 1165.22L538.39 1165.23L539.21 1165.25L540.04 1165.26L540.86 1165.27L541.68 1165.29L542.51 1165.30L543.33 1165.32L544.16 1165.33L544.98 1165.35L545.81 1165.36L546.63 1165.38L547.45 1165.39L548.28 1165.41L549.10 1165.42L549.93 1165.44L550.75 1165.46L551.57 1165.47L552.40 1165.49L553.22 1165.51L554.05 1165.53L554.87 1165.55L555.69 1165.56L556.52 1165.58L557.34 1165.60L558.17 1165.62L558.99 1165.64L559.82 1165.66L560.64 1165.68L561.46 1165.70L562.29 1165.72L563.11 1165.75L563.94 1165.77L564.76 1165.79L565.59 1165.81L566.41 1165.83L567.23 1165.85L568.06 1165.87L568.88 1165.89L569.71 1165.91L570.53 1165.93L571.35 1165.95L572.18 1165.97L573.00 1165.99L573.83 1166.01L574.65 1166.03L575.48 1166.04L576.30 1166.06L577.12 1166.08L577.95 1166.10L578.77 1166.11L579.60 1166.13L580.42 1166.14L581.24 1166.16L582.07 1166.17L582.89 1166.19L583.72 1166.20L584.54 1166.21L585.37 1166.23L586.19 1166.24L587.01 1166.25L587.84 1166.26L588.66 1166.27L589.49 1166.29L590.31 1166.30L591.13 1166.31L591.96 1166.32L592.78 1166.33L593.61 1166.35L594.43 1166.36L595.25 1166.37L596.08 1166.38L596.90 1166.39L597.73 1166.40L598.55 1166.41L599.38 1166.42L600.20 1166.43L601.02 1166.44L601.85 1166.45L602.67 1166.46L603.50 1166.47L604.32 1166.48L605.14 1166.49L605.97 1166.50L606.79 1166.51L607.62 1166.52L608.44 1166.53L609.27 1166.54L610.09 1166.55L610.91 1166.56L611.74 1166.57L612.56 1166.58L613.39 1166.59L614.21 1166.60L615.04 1166.60L615.86 1166.61L616.68 1166.62L617.51 1166.63L618.33 1166.64L619.16 1166.64L619.98 1166.65L620.80 1166.66L621.63 1166.67L622.45 1166.67L623.28 1166.68L624.10 1166.69L624.92 1166.70L625.75 1166.70L626.57 1166.71L627.40 1166.72L628.22 1166.72L629.05 1166.73L629.87 1166.73L630.69 1166.74L631.52 1166.75L632.34 1166.75L633.17 1166.76L633.99 1166.76L634.82 1166.77L635.64 1166.77L636.46 1166.78L637.29 1166.79L638.11 1166.79L638.94 1166.80L639.76 1166.80L640.58 1166.81L641.41 1166.81L642.23 1166.82L643.06 1166.82L643.88 1166.83L644.70 1166.83L645.53 1166.84L646.35 1166.85L647.18 1166.85L648.00 1166.86L648.83 1166.86L649.65 1166.87L650.47 1166.87L651.30 1166.88L652.12 1166.88L652.95 1166.89L653.77 1166.89L654.60 1166.90L655.42 1166.90L656.24 1166.91L657.07 1166.91L657.89 1166.92L658.72 1166.92L659.54 1166.93L660.36 1166.93L661.19 1166.94L662.01 1166.94L662.84 1166.95L663.66 1166.95L664.49 1166.96L665.31 1166.96L666.13 1166.97L666.96 1166.97L667.78 1166.98L668.61 1166.98L669.43 1166.99L670.25 1166.99L671.08 1167.00L671.90 1167.00L672.73 1167.00L673.55 1167.01L674.38 1167.01L675.20 1167.02L676.02 1167.02L676.85 1167.03L677.67 1167.03L678.50 1167.03L679.32 1167.04L680.14 1167.04L680.97 1167.04L681.79 1167.05L682.62 1167.05L683.44 1167.06L684.26 1167.06L685.09 1167.06L685.91 1167.07L686.74 1167.07L687.56 1167.07L688.39 1167.08L689.21 1167.08L690.03 1167.08L690.86 1167.08L691.68 1167.09L692.51 1167.09L693.33 1167.09L694.15 1167.09L694.98 1167.10L695.80 1167.10L696.63 1167.10L697.45 1167.10L698.28 1167.11L699.10 1167.11L699.92 1167.11L700.75 1167.11L701.57 1167.11L702.40 1167.12L703.22 1167.12L704.05 1167.12L704.87 1167.12L705.69 1167.12L706.52 1167.12L707.34 1167.12L708.17 1167.13L708.99 1167.13L709.81 1167.13L710.64 1167.13L711.46 1167.13L712.29 1167.13L713.11 1167.13L713.93 1167.13L714.76 1167.13L715.58 1167.13L716.41 1167.13L717.23 1167.13L718.06 1167.13L718.88 1167.13L719.70 1167.13L720.53 1167.13L721.35 1167.13L722.18 1167.13L723.00 1167.13L723.83 1167.13L724.65 1167.13L725.47 1167.13L726.30 1167.13L727.12 1167.12L727.95 1167.12L728.77 1167.12L729.59 1167.12L730.42 1167.12L731.24 1167.12L732.07 1167.12L732.89 1167.12L733.71 1167.12L734.54 1167.12L735.36 1167.11L736.19 1167.11L737.01 1167.11L737.84 1167.11L738.66 1167.11L739.48 1167.11L740.31 1167.11L741.13 1167.11L741.96 1167.10L742.78 1167.10L743.61 1167.10L744.43 1167.10L745.25 1167.10L746.08 1167.10L746.90 1167.09L747.73 1167.09L748.55 1167.09L749.37 1167.09L750.20 1167.09L751.02 1167.09L751.85 1167.08L752.67 1167.08L753.50 1167.08L754.32 1167.08L755.14 1167.08L755.97 1167.07L756.79 1167.07L757.62 1167.07L758.44 1167.07L759.26 1167.07L760.09 1167.06L760.91 1167.06L761.74 1167.06L762.56 1167.06L763.38 1167.05L764.21 1167.05L765.03 1167.05L765.86 1167.05L766.68 1167.04L767.51 1167.04L768.33 1167.04L769.15 1167.04L769.98 1167.03L770.80 1167.03L771.63 1167.03L772.45 1167.03L773.27 1167.02L774.10 1167.02L774.92 1167.02L775.75 1167.02L776.57 1167.01L777.40 1167.01L778.22 1167.01L779.04 1167.01L779.87 1167.00L780.69 1167.00L781.52 1167.00L782.34 1167.00L783.16 1166.99L783.99 1166.99L784.81 1166.99L785.64 1166.99L786.46 1166.98L787.29 1166.98L788.11 1166.98L788.93 1166.97L789.76 1166.97L790.58 1166.97L791.41 1166.97L792.23 1166.96L793.06 1166.96L793.88 1166.96L794.70 1166.96L795.53 1166.95L796.35 1166.95L797.18 1166.95L798.00 1166.94L798.82 1166.94L799.65 1166.94L800.47 1166.93L801.30 1166.93L802.12 1166.93L802.94 1166.92L803.77 1166.92L804.59 1166.92L805.42 1166.91L806.24 1166.91L807.07 1166.91L807.89 1166.90L808.71 1166.90L809.54 1166.89L810.36 1166.89L811.19 1166.88L812.01 1166.88L812.84 1166.87L813.66 1166.87L814.48 1166.86L815.31 1166.86L816.13 1166.85L816.96 1166.85L817.78 1166.84L818.60 1166.84L819.43 1166.83L820.25 1166.83L821.08 1166.82L821.90 1166.82L822.73 1166.81L823.55 1166.80L824.37 1166.80L825.20 1166.79L826.02 1166.79L826.85 1166.78L827.67 1166.77L828.49 1166.77L829.32 1166.76L830.14 1166.76L830.97 1166.75L831.79 1166.74L832.62 1166.74L833.44 1166.73L834.26 1166.72L835.09 1166.72L835.91 1166.71L836.74 1166.71L837.56 1166.70L838.38 1166.69L839.21 1166.69L840.03 1166.68L840.86 1166.67L841.68 1166.67L842.50 1166.66L843.33 1166.65L844.15 1166.65L844.98 1166.64L845.80 1166.63L846.63 1166.63L847.45 1166.62L848.27 1166.61L849.10 1166.61L849.92 1166.60L850.75 1166.59L851.57 1166.59L852.39 1166.58L853.22 1166.57L854.04 1166.57L854.87 1166.56L855.69 1166.55L856.52 1166.55L857.34 1166.54L858.16 1166.54L858.99 1166.53L859.81 1166.52L860.64 1166.52L861.46 1166.51L862.28 1166.50L863.11 1166.50L863.93 1166.49L864.76 1166.49L865.58 1166.48L866.41 1166.47L867.23 1166.47L868.05 1166.46L868.88 1166.46L869.70 1166.45L870.53 1166.45L871.35 1166.44L872.17 1166.44L873.00 1166.43L873.82 1166.42L874.65 1166.42L875.47 1166.41L876.30 1166.41L877.12 1166.40L877.94 1166.40L878.77 1166.40L879.59 1166.39L880.42 1166.39L881.24 1166.38L882.07 1166.38L882.89 1166.37L883.71 1166.37L884.54 1166.36L885.36 1166.36L886.19 1166.36L887.01 1166.35L887.83 1166.35L888.66 1166.34L889.48 1166.34L890.31 1166.33L891.13 1166.33L891.96 1166.33L892.78 1166.32L893.60 1166.32L894.43 1166.31L895.25 1166.31L896.08 1166.30L896.90 1166.30L897.72 1166.30L898.55 1166.29L899.37 1166.29L900.20 1166.28L901.02 1166.28L901.85 1166.28L902.67 1166.27L903.49 1166.27L904.32 1166.26L905.14 1166.26L905.97 1166.26L906.79 1166.25L907.61 1166.25L908.44 1166.24L909.26 1166.24L910.09 1166.24L910.91 1166.23L911.74 1166.23L912.56 1166.22L913.38 1166.22L914.21 1166.22L915.03 1166.21L915.86 1166.21L916.68 1166.21L917.50 1166.20L918.33 1166.20L919.15 1166.19L919.98 1166.19L920.80 1166.19L921.62 1166.18L922.45 1166.18L923.27 1166.18L924.10 1166.17L924.92 1166.17L925.75 1166.16L926.57 1166.16L927.39 1166.16L928.22 1166.15L929.04 1166.15L929.87 1166.15L930.69 1166.14L931.51 1166.14L932.34 1166.14L933.16 1166.13L933.99 1166.13L934.81 1166.13L935.64 1166.12L936.46 1166.12L937.28 1166.12L938.11 1166.11L938.93 1166.11L939.76 1166.10L940.58 1166.10L941.40 1166.10L942.23 1166.09L943.05 1166.09L943.88 1166.09L944.70 1166.08L945.53 1166.08L946.35 1166.08L947.17 1166.07L948.00 1166.07L948.82 1166.07L949.65 1166.07L950.47 1166.06L951.29 1166.06L952.12 1166.06L952.94 1166.05L953.77 1166.05L954.59 1166.05L955.42 1166.04L956.24 1166.04L957.06 1166.04L957.89 1166.03L958.71 1166.03L959.54 1166.03L960.36 1166.02L961.18 1166.02L962.01 1166.02L962.83 1166.01L963.66 1166.01L964.48 1166.01L965.31 1166.01L966.13 1166.00L966.95 1166.00L967.78 1166.00L968.60 1165.99L969.43 1165.99L970.25 1165.99L971.08 1165.98L971.90 1165.98L972.72 1165.98L973.55 1165.97L974.37 1165.97L975.20 1165.97L976.02 1165.97L976.84 1165.96L977.67 1165.96L978.49 1165.96L979.32 1165.95L980.14 1165.95L980.97 1165.95L981.79 1165.94L982.61 1165.94L983.44 1165.94L984.26 1165.94L985.09 1165.93L985.91 1165.93L986.73 1165.93L987.56 1165.92L988.38 1165.92L989.21 1165.92L990.03 1165.91L990.86 1165.91L991.68 1165.91L992.50 1165.91L993.33 1165.90L994.15 1165.90L994.98 1165.90L995.80 1165.89L996.62 1165.89L997.45 1165.89L998.27 1165.89L999.10 1165.88L999.92 1165.88L1000.75 1165.88L1001.57 1165.87L1002.39 1165.87L1003.22 1165.87L1004.04 1165.87L1004.87 1165.86L1005.69 1165.86L1006.51 1165.86L1007.34 1165.85L1008.16 1165.85L1008.99 1165.85L1009.81 1165.85L1010.63 1165.84L1011.46 1165.84L1012.28 1165.84L1013.11 1165.84L1013.93 1165.83L1014.76 1165.83L1015.58 1165.83L1016.40 1165.83L1017.23 1165.82L1018.05 1165.82L1018.88 1165.82L1019.70 1165.82L1020.52 1165.81L1021.35 1165.81L1022.17 1165.81L1023.00 1165.81L1023.82 1165.80L1024.65 1165.80L1025.47 1165.80L1026.29 1165.80L1027.12 1165.80L1027.94 1165.79L1028.77 1165.79L1029.59 1165.79L1030.41 1165.79L1031.24 1165.79L1032.06 1165.78L1032.89 1165.78L1033.71 1165.78L1034.54 1165.78L1035.36 1165.78L1036.18 1165.77L1037.01 1165.77L1037.83 1165.77L1038.66 1165.77L1039.48 1165.77L1040.30 1165.76L1041.13 1165.76L1041.95 1165.76L1042.78 1165.76L1043.60 1165.76L1044.43 1165.76L1045.25 1165.75L1046.07 1165.75L1046.90 1165.75L1047.72 1165.75L1048.55 1165.75L1049.37 1165.75L1050.20 1165.75L1051.02 1165.74L1051.84 1165.74L1052.67 1165.74L1053.49 1165.74L1054.32 1165.74L1055.14 1165.74L1055.96 1165.73L1056.79 1165.73L1057.61 1165.73L1058.44 1165.73L1059.26 1165.73L1060.09 1165.73L1060.91 1165.73L1061.73 1165.72L1062.56 1165.72L1063.38 1165.72L1064.21 1165.72L1065.03 1165.72L1065.85 1165.72L1066.68 1165.72L1067.50 1165.71L1068.33 1165.71L1069.15 1165.71L1069.97 1165.71L1070.80 1165.71L1071.62 1165.71L1072.45 1165.71L1073.27 1165.70L1074.10 1165.70L1074.92 1165.70L1075.74 1165.70L1076.57 1165.70L1077.39 1165.70L1078.22 1165.70L1079.04 1165.69L1079.87 1165.69L1080.69 1165.69L1081.51 1165.69L1082.34 1165.69L1083.16 1165.69L1083.99 1165.69L1084.81 1165.69L1085.63 1165.68L1086.46 1165.68L1087.28 1165.68L1088.11 1165.68L1088.93 1165.68L1089.76 1165.68L1090.58 1165.68L1091.40 1165.68L1092.23 1165.68L1093.05 1165.67L1093.88 1165.67L1094.70 1165.67L1095.52 1165.67L1096.35 1165.67L1097.17 1165.67L1098.00 1165.67L1098.82 1165.67L1099.64 1165.67L1100.47 1165.67L1101.29 1165.66L1102.12 1165.66L1102.94 1165.66L1103.77 1165.66L1104.59 1165.66L1105.41 1165.66L1106.24 1165.66L1107.06 1165.66L1107.89 1165.66L1108.71 1165.66L1109.53 1165.66L1110.36 1165.65L1111.18 1165.65L1112.01 1165.65L1112.83 1165.65L1113.66 1165.65L1114.48 1165.65L1115.30 1165.65L1116.13 1165.65L1116.95 1165.65L1117.78 1165.65L1118.60 1165.65L1119.42 1165.65L1120.25 1165.65L1121.07 1165.65L1121.90 1165.65L1122.72 1165.65L1123.55 1165.64L1124.37 1165.64L1125.19 1165.64L1126.02 1165.64L1126.84 1165.64L1127.67 1165.64L1129.32 1164.90L1130.96 1164.16L1132.61 1163.41L1134.26 1162.66L1135.91 1161.88L1137.56 1161.07L1139.20 1160.22L1140.85 1159.32L1142.50 1158.39L1144.15 1157.47L1145.80 1156.54L1147.45 1155.61L1149.10 1154.68L1150.74 1153.75L1152.39 1152.82L1154.04 1151.89L1155.69 1150.96L1157.34 1150.03L1158.99 1149.10L1160.63 1148.17L1162.28 1147.24L1163.93 1146.31L1165.58 1145.38L1167.23 1144.46L1168.88 1143.53L1170.52 1142.60L1172.17 1141.67L1173.82 1140.74L1175.47 1139.81L1177.12 1138.88L1178.76 1137.95L1180.41 1137.02L1182.06 1136.09L1183.71 1135.15L1185.36 1134.22L1187.01 1133.28L1188.65 1132.34L1190.30 1131.40L1191.95 1130.46L1193.60 1129.52L1195.25 1128.58L1196.90 1127.64L1198.55 1126.69L1200.19 1125.75L1201.84 1124.80L1203.49 1123.86L1205.14 1122.91L1206.79 1121.97L1208.43 1121.02L1210.08 1120.07L1211.73 1119.12L1213.38 1118.17L1215.03 1117.22L1216.68 1116.28L1218.33 1115.33L1219.97 1114.38L1221.62 1113.43L1223.27 1112.48L1224.92 1111.53L1226.57 1110.58L1228.22 1109.63L1229.86 1108.68L1231.51 1107.73L1233.16 1106.78L1234.81 1105.83L1236.46 1104.88L1238.11 1103.93L1239.75 1102.99L1241.40 1102.04L1243.05 1101.09L1244.70 1100.15L1246.35 1099.20L1247.99 1098.26L1249.64 1097.31L1251.29 1096.37L1252.94 1095.43L1254.59 1094.49L1256.24 1093.55L1257.88 1092.61L1259.53 1091.67L1261.18 1090.73L1262.83 1089.80L1264.48 1088.86L1266.13 1087.92L1267.78 1086.99L1269.42 1086.05L1271.07 1085.11L1272.72 1084.17L1274.37 1083.24L1276.02 1082.30L1277.66 1081.36L1279.31 1080.43L1280.96 1079.49L1282.61 1078.55L1284.26 1077.61L1285.91 1076.68L1287.55 1075.74L1289.20 1074.80L1290.85 1073.87L1292.50 1072.93L1294.15 1071.99L1295.80 1071.06L1297.45 1070.12L1299.09 1069.18L1300.74 1068.25L1302.39 1067.31L1304.04 1066.38L1305.69 1065.44L1307.34 1064.50L1308.98 1063.57L1310.63 1062.63L1312.28 1061.70L1313.93 1060.76L1315.58 1059.83L1317.22 1058.89L1318.87 1057.96L1320.52 1057.02L1322.17 1056.09L1323.82 1055.15L1325.47 1054.22L1327.12 1053.28L1328.76 1052.35L1330.41 1051.41L1332.06 1050.48L1333.71 1049.54L1335.36 1048.61L1337.01 1047.68L1338.65 1046.74L1340.30 1045.81L1341.95 1044.88L1343.60 1043.94L1345.25 1043.01L1346.89 1042.08L1348.54 1041.15L1350.19 1040.21L1351.84 1039.28L1353.49 1038.35L1355.14 1037.42L1356.79 1036.49L1358.43 1035.55L1360.08 1034.62L1361.73 1033.69L1363.38 1032.76L1365.03 1031.83L1366.67 1030.90L1368.32 1029.97L1369.97 1029.04L1371.62 1028.11L1373.27 1027.18L1374.92 1026.25L1376.57 1025.32L1378.21 1024.39L1379.86 1023.46L1381.51 1022.53L1383.16 1021.60L1384.81 1020.67L1386.45 1019.75L1388.10 1018.82L1389.75 1017.89L1391.40 1016.96L1393.05 1016.03L1394.70 1015.10L1396.35 1014.17L1397.99 1013.24L1399.64 1012.31L1401.29 1011.38L1402.94 1010.45L1404.59 1009.52L1406.23 1008.59L1407.88 1007.66L1409.53 1006.74L1411.18 1005.81L1412.83 1004.88L1414.48 1003.95L1416.12 1003.02L1417.77 1002.09L1419.42 1001.16L1421.07 1000.23L1422.72 999.30L1424.37 998.37L1426.02 997.44L1427.66 996.51L1429.31 995.58L1430.96 994.65L1432.61 993.73L1434.26 992.80L1435.90 991.87L1437.55 990.94L1439.20 990.01L1440.85 989.08L1442.50 988.15L1444.15 987.22L1445.80 986.29L1447.44 985.36L1449.09 984.43L1450.74 983.50L1452.39 982.57L1454.04 981.64L1455.68 980.71L1457.33 979.79L1458.98 978.86L1460.63 977.93L1462.28 977.00L1463.93 976.07L1465.58 975.14L1467.22 974.21L1468.87 973.28L1470.52 972.35L1472.17 971.42L1473.82 970.49L1475.46 969.56L1477.11 968.63L1478.76 967.70L1480.41 966.78L1482.06 965.85L1483.71 964.92L1485.36 963.99L1487.00 963.06L1488.65 962.13L1490.30 961.20L1491.95 960.27L1493.60 959.34L1495.24 958.41L1496.89 957.48L1498.54 956.55L1500.19 955.62L1501.84 954.69L1503.49 953.77L1505.13 952.84L1506.78 951.91L1508.43 950.98L1510.08 950.05L1511.73 949.12L1513.38 948.19L1515.03 947.26L1516.67 946.33L1518.32 945.40L1519.97 944.47L1521.62 943.54L1523.27 942.61L1524.91 941.68L1526.56 940.76L1528.21 939.83L1529.86 938.90L1531.51 937.97L1533.16 937.04L1534.81 936.11L1536.45 935.18L1538.10 934.25L1539.75 933.32L1541.40 932.39L1543.05 931.46L1544.69 930.53L1546.34 929.60L1547.99 928.67L1549.64 927.75L1551.29 926.82L1552.94 925.89L1554.59 924.96L1556.23 924.03L1557.88 923.10L1559.53 922.17L1561.18 921.24L1562.83 920.31L1564.47 919.38L1566.12 918.45L1567.77 917.52L1569.42 916.59L1571.07 915.66L1572.72 914.74L1574.37 913.81L1576.01 912.88L1577.66 911.95L1579.31 911.02L1580.96 910.09L1582.61 909.16L1584.26 908.23L1585.90 907.30L1587.55 906.37L1589.20 905.44L1590.85 904.51L1592.50 903.58L1594.14 902.65L1595.79 901.73L1597.44 900.80L1599.09 899.87L1600.74 898.94L1602.39 898.01L1604.04 897.08L1605.68 896.15L1607.33 895.22L1608.98 894.29L1610.63 893.36L1612.28 892.43L1613.92 891.50L1615.57 890.57L1617.22 889.64L1618.87 888.72L1620.52 887.79L1622.17 886.86L1623.82 885.93L1625.46 885.00L1627.11 884.07L1628.76 883.14L1630.41 882.21L1632.06 881.28L1633.70 880.35L1635.35 879.42L1637.00 878.49L1638.65 877.56L1640.30 876.63L1641.95 875.71L1643.60 874.78L1645.24 873.85L1646.89 872.92L1648.54 871.99L1650.19 871.06L1651.84 870.13L1653.48 869.20L1655.13 868.27L1656.78 867.34L1658.43 866.41L1660.08 865.48L1661.73 864.55L1663.38 863.62L1665.02 862.70L1666.67 861.77L1668.32 860.84L1669.97 859.91L1671.62 858.98L1673.27 858.05L1674.91 857.12L1676.56 856.19L1678.21 855.26L1679.86 854.33L1681.51 853.40L1683.15 852.47L1684.80 851.54L1686.45 850.62L1688.10 849.69L1689.75 848.76L1691.40 847.83L1693.05 846.90L1694.69 845.97L1696.34 845.04L1697.99 844.11L1699.64 843.18L1701.29 842.25L1702.93 841.32L1704.58 840.39L1706.23 839.46L1707.88 838.53L1709.53 837.61L1711.18 836.68L1712.83 835.75L1714.47 834.82L1716.12 833.89L1717.77 832.96L1719.42 832.03L1721.07 831.10L1722.71 830.17L1724.36 829.24L1726.01 828.31L1727.66 827.38L1729.31 826.45L1730.96 825.52L1732.61 824.60L1734.25 823.67L1735.90 822.74L1737.55 821.81L1739.20 820.88L1740.85 819.95L1742.49 819.02L1744.14 818.09L1745.79 817.16L1747.44 816.23L1749.09 815.30L1750.74 814.37L1752.38 813.44L1754.03 812.51L1755.68 811.59L1757.33 810.66L1758.98 809.73L1760.63 808.80L1762.28 807.87L1763.92 806.94L1765.57 806.01L1767.22 805.08L1768.87 804.15L1770.52 803.22L1772.16 802.29L1773.81 801.36L1775.46 800.43L1777.11 799.50L1778.76 798.58L1780.41 797.65L1782.06 796.72L1783.70 795.79L1785.35 794.86L1787.00 793.93L1788.65 791.55L1790.30 789.32L1791.94 787.20L1793.59 785.13L1795.24 783.06L1796.89 780.94L1798.54 778.72L1800.19 776.33L1801.84 773.85L1803.48 771.37L1805.13 768.89L1806.78 766.40L1808.43 763.91L1810.08 761.42L1811.72 758.92L1813.37 756.43L1815.02 753.93L1816.67 751.43L1818.32 748.93L1819.97 746.43L1821.62 743.93L1823.26 741.42L1824.91 738.92L1826.56 736.41L1828.21 733.90L1829.86 731.39L1831.51 728.88L1833.15 726.38L1834.80 723.87L1836.45 721.36L1838.10 718.85L1839.75 716.34L1841.39 713.83L1843.04 711.32L1844.69 708.82L1846.34 706.31L1847.99 703.80L1849.64 701.30L1851.29 698.79L1852.93 696.29L1854.58 693.79L1856.23 691.29L1857.88 688.78L1859.53 686.28L1861.17 683.77L1862.82 681.27L1864.47 678.76L1866.12 676.25L1867.77 673.74L1869.42 671.23L1871.07 668.73L1872.71 666.22L1874.36 663.71L1876.01 661.20L1877.66 658.69L1879.31 656.18L1880.95 653.66L1882.60 651.15L1884.25 648.64L1885.90 646.13L1887.55 643.62L1889.20 641.11L1890.85 638.60L1892.49 636.09L1894.14 633.58L1895.79 631.07L1897.44 628.56L1899.09 626.05L1900.73 623.54L1902.38 621.03L1904.03 618.52L1905.68 616.01L1907.33 613.50L1908.98 610.99L1910.62 608.49L1912.27 605.98L1913.92 603.47L1915.57 600.97L1917.22 598.46L1918.87 595.96L1920.52 593.46L1922.16 590.96L1923.81 588.45L1925.46 585.95L1927.11 583.46L1928.76 580.96L1930.40 578.46L1932.05 575.96L1933.70 573.47L1935.35 570.98L1937.00 568.48L1938.65 565.99L1940.30 563.50L1941.94 561.02L1943.59 558.53L1945.24 556.04L1946.89 553.56L1948.54 551.08L1950.18 548.60L1951.83 546.12L1953.48 543.64L1955.13 541.16L1956.78 538.68L1958.43 536.21L1960.08 533.73L1961.72 531.25L1963.37 528.77L1965.02 526.29L1966.67 523.82L1968.32 521.34L1969.96 518.86L1971.61 516.38L1973.26 513.90L1974.91 511.43L1976.56 508.95L1978.21 506.47L1979.86 503.99L1981.50 501.51L1983.15 499.04L1984.80 496.56L1986.45 494.08L1988.10 491.60L1989.74 489.12L1991.39 486.64L1993.04 484.17L1994.69 481.69L1996.34 479.21L1997.99 476.73L1999.63 474.25L2001.28 471.78L2002.93 469.30L2004.58 466.82L2006.23 464.34L2007.88 461.86L2009.53 459.39L2011.17 456.91L2012.82 454.43L2014.47 451.95L2016.12 449.47L2017.77 447.00L2019.41 444.52L2021.06 442.04L2022.71 439.56L2024.36 437.08L2026.01 434.60L2027.66 432.13L2029.31 429.65L2030.95 427.17L2032.60 424.69L2034.25 422.21L2035.90 419.74L2037.55 417.26L2039.19 414.78L2040.84 412.30L2042.49 409.82L2044.14 407.35L2045.79 404.87L2047.44 402.39L2049.09 399.91L2050.73 397.43L2052.38 394.96L2054.03 392.48L2055.68 390.00L2057.33 387.52L2058.97 385.04L2060.62 382.56L2062.27 380.09L2063.92 377.61L2065.57 375.13L2067.22 372.65L2068.86 370.17L2070.51 367.70L2072.16 365.22L2073.81 362.74L2075.46 360.26L2077.11 357.78L2078.76 355.31L2080.40 352.83L2082.05 350.35L2083.70 347.87L2085.35 345.39L2087.00 342.92L2088.64 340.44L2090.29 337.96L2091.94 335.48L2093.59 333.00L2095.24 330.52L2096.89 328.05L2098.53 325.57L2100.18 323.09L2101.83 320.61L2103.48 318.13L2105.13 315.66L2106.78 313.18L2108.43 310.70L2110.07 308.22L2111.72 305.74L2113.37 303.27L2115.02 300.79L2116.67 298.31L2118.32 295.83L2119.96 293.35L2121.61 290.88L2123.26 288.40L2124.91 285.92L2126.56 283.44L2128.20 280.96L2129.85 278.48L2131.50 276.01L2133.15 273.53L2134.80 271.05L2136.45 268.57L2138.10 266.09L2139.74 263.62L2141.39 261.14L2143.04 258.66L2144.69 256.18L2146.34 253.70L2147.98 251.23L2149.63 248.75L2151.28 246.27L2152.93 243.79L2154.58 241.31L2156.23 238.84L2157.88 236.36L2159.52 233.88L2161.17 231.40L2162.82 228.92L2164.47 226.44L2166.12 223.97L2167.77 221.49L2169.41 219.01L2171.06 216.53L2172.71 214.05L2174.36 211.58L2176.01 209.10L2177.65 206.62L2179.30 204.14L2180.95 201.66L2182.60 199.19L2184.25 196.71L2185.90 194.23L2187.55 191.75L2189.19 189.27L2190.84 186.80L2192.49 184.32L2194.14 181.84L2195.79 179.36L2197.43 176.88L2199.08 174.40L2200.73 171.93L2202.38 169.45L2204.03 166.97L2205.68 164.49L2207.32 162.01L2208.97 159.54L2210.62 157.06L2212.27 154.58L2213.92 152.10L2215.57 149.62L2217.22 147.15L2218.86 144.67L2220.51 142.19L2222.16 139.71L2223.81 137.23L2225.46 134.76L2227.11 132.28L2228.75 129.80L2230.40 127.32L2232.05 124.84L2233.70 122.36L2235.35 119.89L2236.99 117.41L2238.64 114.93L2240.29 112.45L2241.94 109.97L2243.59 107.50L2245.24 105.02L2246.89 102.54L2248.53 100.06L2250.18 97.58L2251.83 95.11L2253.48 92.63L2255.13 90.15L2256.78 87.67L2258.42 85.19L2260.07 82.72L2261.72 80.24L2263.37 77.76L2265.02 75.28L2266.66 72.80L2268.31 70.32L2269.96 67.85L2271.61 65.37L2273.26 62.89L2274.91 60.41L2276.56 57.93L2278.20 55.46L2279.85 52.98L2281.50 50.50" stroke="#0000ff"/><path d="M310.92 1091.49L311.74 1091.55L312.57 1091.62L313.39 1091.70L314.22 1091.79L315.04 1091.90L315.87 1092.01L316.69 1092.13L317.51 1092.26L318.34 1092.40L319.16 1092.54L319.99 1092.69L320.81 1092.85L321.64 1093.01L322.46 1093.18L323.29 1093.35L324.11 1093.53L324.94 1093.73L325.76 1093.96L326.59 1094.20L327.41 1094.47L328.24 1094.74L329.06 1095.04L329.88 1095.35L330.71 1095.67L331.53 1096.00L332.36 1096.34L333.18 1096.69L334.01 1097.05L334.83 1097.41L335.66 1097.78L336.48 1098.16L337.31 1098.53L338.13 1098.91L338.96 1099.28L339.78 1099.66L340.61 1100.03L341.43 1100.40L342.26 1100.76L343.08 1101.12L343.90 1101.47L344.73 1101.81L345.55 1102.14L346.38 1102.46L347.20 1102.77L348.03 1103.08L348.85 1103.39L349.68 1103.70L350.50 1104.00L351.33 1104.31L352.15 1104.61L352.98 1104.91L353.80 1105.21L354.63 1105.51L355.45 1105.81L356.27 1106.11L357.10 1106.40L357.92 1106.70L358.75 1106.99L359.57 1107.29L360.40 1107.58L361.22 1107.87L362.05 1108.17L362.87 1108.46L363.70 1108.75L364.52 1109.04L365.35 1109.33L366.17 1109.62L367.00 1109.92L367.82 1110.21L368.64 1110.50L369.47 1110.79L370.29 1111.08L371.12 1111.38L371.94 1111.67L372.77 1111.96L373.59 1112.26L374.42 1112.55L375.24 1112.85L376.07 1113.14L376.89 1113.44L377.72 1113.74L378.54 1114.04L379.37 1114.34L380.19 1114.64L381.01 1114.94L381.84 1115.24L382.66 1115.55L383.49 1115.85L384.31 1116.16L385.14 1116.47L385.96 1116.78L386.79 1117.09L387.61 1117.40L388.44 1117.72L389.26 1118.03L390.09 1118.34L390.91 1118.66L391.74 1118.97L392.56 1119.29L393.38 1119.60L394.21 1119.92L395.03 1120.24L395.86 1120.55L396.68 1120.87L397.51 1121.19L398.33 1121.51L399.16 1121.83L399.98 1122.15L400.81 1122.47L401.63 1122.79L402.46 1123.12L403.28 1123.44L404.11 1123.76L404.93 1124.09L405.75 1124.42L406.58 1124.74L407.40 1125.07L408.23 1125.40L409.05 1125.73L409.88 1126.05L410.70 1126.39L411.53 1126.72L412.35 1127.05L413.18 1127.38L414.00 1127.71L414.83 1128.05L415.65 1128.38L416.48 1128.72L417.30 1129.06L418.12 1129.40L418.95 1129.74L419.77 1130.08L420.60 1130.42L421.42 1130.76L422.25 1131.10L423.07 1131.45L423.90 1131.79L424.72 1132.13L425.55 1132.48L426.37 1132.82L427.20 1133.16L428.02 1133.51L428.85 1133.85L429.67 1134.20L430.49 1134.54L431.32 1134.89L432.14 1135.24L432.97 1135.58L433.79 1135.93L434.62 1136.28L435.44 1136.63L436.27 1136.98L437.09 1137.34L437.92 1137.69L438.74 1138.04L439.57 1138.40L440.39 1138.76L441.22 1139.11L442.04 1139.47L442.86 1139.84L443.69 1140.20L444.51 1140.56L445.34 1140.93L446.16 1141.30L446.99 1141.67L447.81 1142.04L448.64 1142.41L449.46 1142.79L450.29 1143.16L451.11 1143.54L451.94 1143.93L452.76 1144.31L453.59 1144.70L454.41 1145.09L455.24 1145.48L456.06 1145.87L456.88 1146.27L457.71 1146.67L458.53 1147.07L459.36 1147.47L460.18 1147.89L461.01 1148.31L461.83 1148.73L462.66 1149.17L463.48 1149.61L464.31 1150.05L465.13 1150.50L465.96 1150.95L466.78 1151.41L467.61 1151.86L468.43 1152.31L469.25 1152.78L470.08 1153.24L470.90 1153.71L471.73 1154.22L472.55 1154.75L473.38 1155.16L474.20 1155.39L475.03 1155.56L475.85 1155.69L476.68 1155.81L477.50 1155.91L478.33 1156.00L479.15 1156.08L479.98 1156.15L480.80 1156.22L481.62 1156.29L482.45 1156.35L483.27 1156.41L484.10 1156.48L484.92 1156.54L485.75 1156.61L486.57 1156.68L487.40 1156.76L488.22 1156.83L489.05 1156.90L489.87 1156.97L490.70 1157.04L491.52 1157.12L492.35 1157.19L493.17 1157.27L493.99 1157.34L494.82 1157.42L495.64 1157.49L496.47 1157.57L497.29 1157.65L498.12 1157.72L498.94 1157.80L499.77 1157.87L500.59 1157.95L501.42 1158.03L502.24 1158.11L503.07 1158.19L503.89 1158.27L504.72 1158.36L505.54 1158.45L506.36 1158.54L507.19 1158.63L508.01 1158.72L508.84 1158.81L509.66 1158.89L510.49 1158.97L511.31 1159.05L512.14 1159.12L512.96 1159.20L513.79 1159.28L514.61 1159.36L515.44 1159.45L516.26 1159.54L517.09 1159.65L517.91 1159.75L518.73 1159.85L519.56 1159.96L520.38 1160.06L521.21 1160.16L522.03 1160.25L522.86 1160.33L523.68 1160.41L524.51 1160.50L525.33 1160.58L526.16 1160.67L526.98 1160.77L527.81 1160.88L528.63 1160.99L529.46 1161.11L530.28 1161.23L531.10 1161.35L531.93 1161.46L532.75 1161.57L533.58 1161.67L534.40 1161.77L535.23 1161.87L536.05 1161.96L536.88 1162.06L537.70 1162.16L538.53 1162.26L539.35 1162.37L540.18 1162.49L541.00 1162.61L541.83 1162.73L542.65 1162.85L543.47 1162.97L544.30 1163.08L545.12 1163.19L545.95 1163.30L546.77 1163.41L547.60 1163.52L548.42 1163.63L549.25 1163.74L550.07 1163.86L550.90 1163.98L551.72 1164.10L552.55 1164.22L553.37 1164.35L554.20 1164.48L555.02 1164.61L555.85 1164.74L556.67 1164.87L557.49 1165.01L558.32 1165.16L559.14 1165.31L559.97 1165.45L560.79 1165.61L561.62 1165.76L562.44 1165.91L563.27 1166.06L564.09 1166.21L564.92 1166.36L565.74 1166.50L566.57 1166.65L567.39 1166.78L568.22 1166.92L569.04 1167.06L569.86 1167.20L570.69 1167.34L571.51 1167.48L572.34 1167.63L573.16 1167.77L573.99 1167.91L574.81 1168.06L575.64 1168.20L576.46 1168.35L577.29 1168.49L578.11 1168.64L578.94 1168.78L579.76 1168.93L580.59 1169.07L581.41 1169.22L582.23 1169.36L583.06 1169.50L583.88 1169.65L584.71 1169.79L585.53 1169.93L586.36 1170.07L587.18 1170.21L588.01 1170.35L588.83 1170.49L589.66 1170.62L590.48 1170.76L591.31 1170.89L592.13 1171.03L592.96 1171.16L593.78 1171.29L594.60 1171.41L595.43 1171.54L596.25 1171.66L597.08 1171.79L597.90 1171.91L598.73 1172.02L599.55 1172.14L600.38 1172.25L601.20 1172.36L602.03 1172.47L602.85 1172.57L603.68 1172.68L604.50 1172.78L605.33 1172.87L606.15 1172.97L606.97 1173.06L607.80 1173.15L608.62 1173.23L609.45 1173.31L610.27 1173.39L611.10 1173.47L611.92 1173.54L612.75 1173.61L613.57 1173.68L614.40 1173.75L615.22 1173.82L616.05 1173.89L616.87 1173.95L617.70 1174.02L618.52 1174.08L619.34 1174.15L620.17 1174.21L620.99 1174.27L621.82 1174.33L622.64 1174.39L623.47 1174.45L624.29 1174.51L625.12 1174.57L625.94 1174.62L626.77 1174.68L627.59 1174.73L628.42 1174.79L629.24 1174.84L630.07 1174.89L630.89 1174.95L631.71 1175.00L632.54 1175.05L633.36 1175.10L634.19 1175.14L635.01 1175.19L635.84 1175.24L636.66 1175.28L637.49 1175.33L638.31 1175.37L639.14 1175.42L639.96 1175.46L640.79 1175.50L641.61 1175.54L642.44 1175.58L643.26 1175.62L644.08 1175.66L644.91 1175.70L645.73 1175.74L646.56 1175.78L647.38 1175.81L648.21 1175.85L649.03 1175.89L649.86 1175.92L650.68 1175.95L651.51 1175.99L652.33 1176.02L653.16 1176.06L653.98 1176.09L654.81 1176.13L655.63 1176.16L656.45 1176.20L657.28 1176.23L658.10 1176.27L658.93 1176.30L659.75 1176.34L660.58 1176.37L661.40 1176.41L662.23 1176.44L663.05 1176.48L663.88 1176.51L664.70 1176.54L665.53 1176.58L666.35 1176.61L667.18 1176.64L668.00 1176.67L668.83 1176.70L669.65 1176.73L670.47 1176.76L671.30 1176.79L672.12 1176.82L672.95 1176.85L673.77 1176.88L674.60 1176.90L675.42 1176.93L676.25 1176.95L677.07 1176.97L677.90 1176.99L678.72 1177.01L679.55 1177.03L680.37 1177.05L681.20 1177.07L682.02 1177.09L682.84 1177.10L683.67 1177.11L684.49 1177.13L685.32 1177.14L686.14 1177.14L686.97 1177.15L687.79 1177.16L688.62 1177.16L689.44 1177.16L690.27 1177.17L691.09 1177.17L691.92 1177.16L692.74 1177.16L693.57 1177.16L694.39 1177.16L695.21 1177.15L696.04 1177.14L696.86 1177.14L697.69 1177.13L698.51 1177.12L699.34 1177.11L700.16 1177.11L700.99 1177.09L701.81 1177.08L702.64 1177.07L703.46 1177.06L704.29 1177.05L705.11 1177.03L705.94 1177.02L706.76 1177.00L707.58 1176.99L708.41 1176.97L709.23 1176.95L710.06 1176.94L710.88 1176.92L711.71 1176.90L712.53 1176.88L713.36 1176.86L714.18 1176.84L715.01 1176.82L715.83 1176.80L716.66 1176.78L717.48 1176.75L718.31 1176.73L719.13 1176.71L719.95 1176.68L720.78 1176.66L721.60 1176.64L722.43 1176.61L723.25 1176.59L724.08 1176.56L724.90 1176.54L725.73 1176.51L726.55 1176.48L727.38 1176.46L728.20 1176.43L729.03 1176.40L729.85 1176.37L730.68 1176.33L731.50 1176.29L732.32 1176.24L733.15 1176.19L733.97 1176.14L734.80 1176.08L735.62 1176.01L736.45 1175.95L737.27 1175.87L738.10 1175.80L738.92 1175.72L739.75 1175.64L740.57 1175.56L741.40 1175.48L742.22 1175.39L743.05 1175.30L743.87 1175.20L744.69 1175.11L745.52 1175.01L746.34 1174.91L747.17 1174.81L747.99 1174.71L748.82 1174.61L749.64 1174.50L750.47 1174.40L751.29 1174.29L752.12 1174.18L752.94 1174.08L753.77 1173.97L754.59 1173.86L755.42 1173.75L756.24 1173.65L757.06 1173.54L757.89 1173.43L758.71 1173.32L759.54 1173.22L760.36 1173.11L761.19 1173.01L762.01 1172.91L762.84 1172.81L763.66 1172.71L764.49 1172.61L765.31 1172.51L766.14 1172.42L766.96 1172.33L767.79 1172.24L768.61 1172.15L769.44 1172.07L770.26 1171.98L771.08 1171.90L771.91 1171.82L772.73 1171.74L773.56 1171.65L774.38 1171.57L775.21 1171.49L776.03 1171.41L776.86 1171.33L777.68 1171.25L778.51 1171.17L779.33 1171.10L780.16 1171.02L780.98 1170.94L781.81 1170.86L782.63 1170.78L783.45 1170.70L784.28 1170.63L785.10 1170.55L785.93 1170.47L786.75 1170.39L787.58 1170.31L788.40 1170.23L789.23 1170.15L790.05 1170.07L790.88 1169.99L791.70 1169.91L792.53 1169.83L793.35 1169.75L794.18 1169.67L795.00 1169.59L795.82 1169.50L796.65 1169.42L797.47 1169.34L798.30 1169.25L799.12 1169.16L799.95 1169.08L800.77 1168.99L801.60 1168.90L802.42 1168.81L803.25 1168.72L804.07 1168.63L804.90 1168.53L805.72 1168.44L806.55 1168.34L807.37 1168.25L808.19 1168.15L809.02 1168.05L809.84 1167.94L810.67 1167.84L811.49 1167.73L812.32 1167.62L813.14 1167.51L813.97 1167.39L814.79 1167.28L815.62 1167.16L816.44 1167.04L817.27 1166.92L818.09 1166.80L818.92 1166.67L819.74 1166.55L820.56 1166.42L821.39 1166.30L822.21 1166.17L823.04 1166.04L823.86 1165.92L824.69 1165.79L825.51 1165.66L826.34 1165.53L827.16 1165.40L827.99 1165.27L828.81 1165.15L829.64 1165.02L830.46 1164.89L831.29 1164.76L832.11 1164.64L832.93 1164.51L833.76 1164.39L834.58 1164.26L835.41 1164.14L836.23 1164.02L837.06 1163.90L837.88 1163.78L838.71 1163.66L839.53 1163.55L840.36 1163.44L841.18 1163.33L842.01 1163.22L842.83 1163.11L843.66 1163.00L844.48 1162.90L845.30 1162.80L846.13 1162.71L846.95 1162.61L847.78 1162.51L848.60 1162.42L849.43 1162.33L850.25 1162.23L851.08 1162.14L851.90 1162.05L852.73 1161.96L853.55 1161.87L854.38 1161.78L855.20 1161.70L856.03 1161.61L856.85 1161.52L857.67 1161.44L858.50 1161.35L859.32 1161.27L860.15 1161.19L860.97 1161.10L861.80 1161.02L862.62 1160.94L863.45 1160.86L864.27 1160.78L865.10 1160.70L865.92 1160.62L866.75 1160.54L867.57 1160.46L868.40 1160.38L869.22 1160.30L870.04 1160.22L870.87 1160.15L871.69 1160.07L872.52 1159.99L873.34 1159.92L874.17 1159.84L874.99 1159.76L875.82 1159.69L876.64 1159.61L877.47 1159.54L878.29 1159.46L879.12 1159.39L879.94 1159.31L880.77 1159.24L881.59 1159.16L882.42 1159.09L883.24 1159.01L884.06 1158.94L884.89 1158.86L885.71 1158.78L886.54 1158.70L887.36 1158.63L888.19 1158.55L889.01 1158.47L889.84 1158.39L890.66 1158.31L891.49 1158.22L892.31 1158.14L893.14 1158.06L893.96 1157.98L894.79 1157.90L895.61 1157.81L896.43 1157.73L897.26 1157.65L898.08 1157.57L898.91 1157.49L899.73 1157.41L900.56 1157.33L901.38 1157.25L902.21 1157.17L903.03 1157.09L903.86 1157.01L904.68 1156.93L905.51 1156.86L906.33 1156.78L907.16 1156.71L907.98 1156.64L908.80 1156.57L909.63 1156.50L910.45 1156.43L911.28 1156.36L912.10 1156.30L912.93 1156.24L913.75 1156.18L914.58 1156.12L915.40 1156.06L916.23 1156.00L917.05 1155.95L917.88 1155.90L918.70 1155.85L919.53 1155.81L920.35 1155.76L921.17 1155.72L922.00 1155.69L922.82 1155.65L923.65 1155.62L924.47 1155.59L925.30 1155.56L926.12 1155.53L926.95 1155.50L927.77 1155.47L928.60 1155.44L929.42 1155.41L930.25 1155.38L931.07 1155.35L931.90 1155.32L932.72 1155.30L933.54 1155.27L934.37 1155.25L935.19 1155.22L936.02 1155.20L936.84 1155.18L937.67 1155.16L938.49 1155.14L939.32 1155.12L940.14 1155.11L940.97 1155.09L941.79 1155.08L942.62 1155.07L943.44 1155.06L944.27 1155.06L945.09 1155.05L945.91 1155.05L946.74 1155.05L947.56 1155.05L948.39 1155.05L949.21 1155.06L950.04 1155.06L950.86 1155.07L951.69 1155.08L952.51 1155.08L953.34 1155.09L954.16 1155.10L954.99 1155.11L955.81 1155.13L956.64 1155.14L957.46 1155.15L958.28 1155.16L959.11 1155.18L959.93 1155.19L960.76 1155.20L961.58 1155.22L962.41 1155.23L963.23 1155.24L964.06 1155.26L964.88 1155.28L965.71 1155.29L966.53 1155.31L967.36 1155.33L968.18 1155.36L969.01 1155.38L969.83 1155.40L970.65 1155.43L971.48 1155.46L972.30 1155.48L973.13 1155.51L973.95 1155.54L974.78 1155.57L975.60 1155.60L976.43 1155.64L977.25 1155.67L978.08 1155.71L978.90 1155.74L979.73 1155.78L980.55 1155.81L981.38 1155.85L982.20 1155.89L983.02 1155.93L983.85 1155.97L984.67 1156.01L985.50 1156.06L986.32 1156.10L987.15 1156.14L987.97 1156.19L988.80 1156.23L989.62 1156.28L990.45 1156.32L991.27 1156.37L992.10 1156.41L992.92 1156.46L993.75 1156.51L994.57 1156.56L995.40 1156.61L996.22 1156.65L997.04 1156.70L997.87 1156.75L998.69 1156.80L999.52 1156.85L1000.34 1156.90L1001.17 1156.96L1001.99 1157.01L1002.82 1157.06L1003.64 1157.11L1004.47 1157.16L1005.29 1157.22L1006.12 1157.27L1006.94 1157.33L1007.77 1157.39L1008.59 1157.45L1009.41 1157.51L1010.24 1157.57L1011.06 1157.64L1011.89 1157.70L1012.71 1157.77L1013.54 1157.84L1014.36 1157.91L1015.19 1157.98L1016.01 1158.05L1016.84 1158.13L1017.66 1158.20L1018.49 1158.28L1019.31 1158.36L1020.14 1158.44L1020.96 1158.52L1021.78 1158.60L1022.61 1158.68L1023.43 1158.76L1024.26 1158.85L1025.08 1158.93L1025.91 1159.02L1026.73 1159.11L1027.56 1159.19L1028.38 1159.28L1029.21 1159.37L1030.03 1159.46L1030.86 1159.56L1031.68 1159.65L1032.51 1159.74L1033.33 1159.84L1034.15 1159.93L1034.98 1160.03L1035.80 1160.13L1036.63 1160.22L1037.45 1160.32L1038.28 1160.42L1039.10 1160.52L1039.93 1160.62L1040.75 1160.72L1041.58 1160.83L1042.40 1160.93L1043.23 1161.04L1044.05 1161.15L1044.88 1161.27L1045.70 1161.39L1046.52 1161.51L1047.35 1161.64L1048.17 1161.77L1049.00 1161.91L1049.82 1162.04L1050.65 1162.18L1051.47 1162.33L1052.30 1162.47L1053.12 1162.62L1053.95 1162.76L1054.77 1162.91L1055.60 1163.06L1056.42 1163.22L1057.25 1163.37L1058.07 1163.53L1058.89 1163.68L1059.72 1163.84L1060.54 1164.00L1061.37 1164.15L1062.19 1164.31L1063.02 1164.47L1063.84 1164.62L1064.67 1164.78L1065.49 1164.94L1066.32 1165.09L1067.14 1165.25L1067.97 1165.40L1068.79 1165.55L1069.62 1165.70L1070.44 1165.85L1071.26 1166.00L1072.09 1166.14L1072.91 1166.28L1073.74 1166.42L1074.56 1166.56L1075.39 1166.69L1076.21 1166.82L1077.04 1166.95L1077.86 1167.08L1078.69 1167.20L1079.51 1167.32L1080.34 1167.43L1081.16 1167.54L1081.99 1167.65L1082.81 1167.76L1083.63 1167.87L1084.46 1167.97L1085.28 1168.08L1086.11 1168.19L1086.93 1168.29L1087.76 1168.39L1088.58 1168.50L1089.41 1168.60L1090.23 1168.70L1091.06 1168.80L1091.88 1168.90L1092.71 1169.00L1093.53 1169.10L1094.36 1169.20L1095.18 1169.29L1096.01 1169.39L1096.83 1169.49L1097.65 1169.58L1098.48 1169.67L1099.30 1169.76L1100.13 1169.86L1100.95 1169.95L1101.78 1170.04L1102.60 1170.12L1103.43 1170.21L1104.25 1170.30L1105.08 1170.38L1105.90 1170.47L1106.73 1170.55L1107.55 1170.63L1108.38 1170.71L1109.20 1170.79L1110.02 1170.87L1110.85 1170.95L1111.67 1171.02L1112.50 1171.10L1113.32 1171.17L1114.15 1171.25L1114.97 1171.32L1115.80 1171.39L1116.62 1171.46L1117.45 1171.52L1118.27 1171.59L1119.92 1171.72L1121.57 1171.85L1123.22 1171.98L1124.87 1172.11L1126.52 1172.24L1128.17 1172.09L1129.82 1171.29L1131.47 1170.50L1133.12 1169.70L1134.77 1168.91L1136.42 1168.13L1138.07 1167.34L1139.72 1166.56L1141.37 1165.77L1143.02 1164.99L1144.67 1164.20L1146.32 1163.42L1147.97 1162.63L1149.62 1161.84L1151.27 1161.05L1152.92 1160.25L1154.57 1159.46L1156.22 1158.65L1157.87 1157.85L1159.52 1157.04L1161.17 1156.22L1162.82 1155.40L1164.47 1154.58L1166.12 1153.74L1167.77 1152.90L1169.42 1152.05L1171.07 1151.20L1172.72 1150.34L1174.37 1149.47L1176.02 1148.61L1177.67 1147.75L1179.32 1146.89L1180.97 1146.03L1182.62 1145.16L1184.27 1144.30L1185.92 1143.43L1187.57 1142.56L1189.22 1141.69L1190.87 1140.81L1192.52 1139.93L1194.17 1139.05L1195.82 1138.17L1197.47 1137.28L1199.12 1136.39L1200.77 1135.49L1202.42 1134.59L1204.07 1133.68L1205.72 1132.77L1207.37 1131.85L1209.02 1130.93L1210.67 1130.00L1212.32 1129.06L1213.97 1128.12L1215.62 1127.17L1217.27 1126.21L1218.92 1125.25L1220.57 1124.28L1222.22 1123.30L1223.87 1122.32L1225.52 1121.34L1227.17 1120.35L1228.82 1119.35L1230.47 1118.35L1232.12 1117.35L1233.77 1116.34L1235.42 1115.33L1237.07 1114.32L1238.72 1113.30L1240.37 1112.29L1242.02 1111.27L1243.67 1110.24L1245.32 1109.19L1246.97 1108.11L1248.62 1107.01L1250.27 1105.87L1251.92 1104.71L1253.57 1103.53L1255.22 1102.32L1256.87 1101.09L1258.52 1099.85L1260.17 1098.58L1261.82 1097.31L1263.47 1096.01L1265.12 1094.71L1266.77 1093.39L1268.42 1092.07L1270.07 1090.73L1271.72 1089.40L1273.37 1088.05L1275.02 1086.71L1276.67 1085.36L1278.32 1084.02L1279.97 1082.67L1281.62 1081.33L1283.27 1080.00L1284.92 1078.67L1286.57 1077.35L1288.22 1076.05L1289.87 1074.75L1291.52 1073.47L1293.17 1072.20L1294.82 1070.92L1296.47 1069.63L1298.12 1068.34L1299.77 1067.03L1301.42 1065.72L1303.07 1064.41L1304.72 1063.10L1306.37 1061.78L1308.02 1060.48L1309.67 1059.17L1311.32 1057.88L1312.97 1056.60L1314.62 1055.33L1316.27 1054.07L1317.92 1052.83L1319.57 1051.61L1321.22 1050.41L1322.87 1049.24L1324.52 1048.09L1326.17 1046.96L1327.82 1045.84L1329.47 1044.72L1331.12 1043.60L1332.77 1042.49L1334.42 1041.37L1336.07 1040.26L1337.72 1039.15L1339.37 1038.04L1341.02 1036.94L1342.67 1035.85L1344.32 1034.76L1345.97 1033.67L1347.62 1032.60L1349.27 1031.53L1350.92 1030.47L1352.57 1029.42L1354.22 1028.37L1355.87 1027.34L1357.52 1026.32L1359.17 1025.31L1360.82 1024.31L1362.47 1023.32L1364.12 1022.35L1365.77 1021.39L1367.42 1020.44L1369.07 1019.51L1370.72 1018.59L1372.37 1017.67L1374.02 1016.75L1375.67 1015.84L1377.32 1014.93L1378.97 1014.03L1380.62 1013.13L1382.27 1012.24L1383.92 1011.35L1385.57 1010.46L1387.22 1009.58L1388.87 1008.70L1390.52 1007.82L1392.17 1006.95L1393.82 1006.08L1395.47 1005.21L1397.12 1004.34L1398.77 1003.48L1400.42 1002.62L1402.07 1001.76L1403.72 1000.90L1405.37 1000.05L1407.02 999.19L1408.67 998.34L1410.32 997.51L1411.97 996.70L1413.62 995.91L1415.27 995.14L1416.92 994.38L1418.57 993.64L1420.22 992.91L1421.87 992.19L1423.52 991.47L1425.17 990.77L1426.82 990.07L1428.47 989.37L1430.12 988.67L1431.77 987.97L1433.42 987.27L1435.07 986.57L1436.72 985.85L1438.37 985.14L1440.02 984.44L1441.67 983.75L1443.32 983.06L1444.97 982.37L1446.62 981.69L1448.27 981.02L1449.92 980.35L1451.57 979.68L1453.22 979.01L1454.87 978.34L1456.52 977.67L1458.16 977.01L1459.81 976.34L1461.46 975.67L1463.11 974.99L1464.76 974.31L1466.41 973.63L1468.06 972.94L1469.71 972.25L1471.36 971.55L1473.01 970.84L1474.66 970.12L1476.31 969.41L1477.96 968.69L1479.61 967.98L1481.26 967.26L1482.91 966.55L1484.56 965.83L1486.21 965.11L1487.86 964.40L1489.51 963.68L1491.16 962.95L1492.81 962.23L1494.46 961.50L1496.11 960.78L1497.76 960.05L1499.41 959.31L1501.06 958.57L1502.71 957.83L1504.36 957.09L1506.01 956.34L1507.66 955.59L1509.31 954.83L1510.96 954.06L1512.61 953.30L1514.26 952.52L1515.91 951.74L1517.56 950.96L1519.21 950.16L1520.86 949.37L1522.51 948.56L1524.16 947.75L1525.81 946.94L1527.46 946.13L1529.11 945.32L1530.76 944.51L1532.41 943.70L1534.06 942.89L1535.71 942.08L1537.36 941.26L1539.01 940.45L1540.66 939.64L1542.31 938.82L1543.96 938.00L1545.61 937.18L1547.26 936.36L1548.91 935.54L1550.56 934.71L1552.21 933.88L1553.86 933.04L1555.51 932.21L1557.16 931.37L1558.81 930.52L1560.46 929.67L1562.11 928.81L1563.76 927.95L1565.41 927.09L1567.06 926.22L1568.71 925.34L1570.36 924.46L1572.01 923.57L1573.66 922.68L1575.31 921.78L1576.96 920.87L1578.61 919.95L1580.26 919.03L1581.91 918.10L1583.56 917.17L1585.21 916.24L1586.86 915.30L1588.51 914.37L1590.16 913.43L1591.81 912.49L1593.46 911.55L1595.11 910.61L1596.76 909.67L1598.41 908.72L1600.06 907.78L1601.71 906.83L1603.36 905.89L1605.01 904.94L1606.66 903.99L1608.31 903.04L1609.96 902.09L1611.61 901.14L1613.26 900.19L1614.91 899.23L1616.56 898.28L1618.21 897.33L1619.86 896.37L1621.51 895.41L1623.16 894.46L1624.81 893.49L1626.46 892.51L1628.11 891.52L1629.76 890.53L1631.41 889.52L1633.06 888.51L1634.71 887.49L1636.36 886.47L1638.01 885.44L1639.66 884.41L1641.31 883.37L1642.96 882.33L1644.61 881.29L1646.26 880.24L1647.91 879.20L1649.56 878.15L1651.21 877.10L1652.86 876.04L1654.51 874.98L1656.16 873.90L1657.81 872.82L1659.46 871.74L1661.11 870.64L1662.76 869.54L1664.41 868.43L1666.06 867.32L1667.71 866.20L1669.36 865.08L1671.01 863.95L1672.66 862.82L1674.31 861.68L1675.96 860.53L1677.61 859.39L1679.26 858.24L1680.91 857.09L1682.56 855.93L1684.21 854.77L1685.86 853.61L1687.51 852.45L1689.16 851.29L1690.81 850.12L1692.46 848.96L1694.11 847.79L1695.76 846.62L1697.41 845.46L1699.06 844.29L1700.71 843.13L1702.36 841.96L1704.01 840.80L1705.66 839.63L1707.31 838.46L1708.96 837.27L1710.61 836.08L1712.26 834.88L1713.91 833.68L1715.56 832.47L1717.21 831.26L1718.86 830.04L1720.51 828.82L1722.16 827.60L1723.81 826.37L1725.46 825.15L1727.11 823.93L1728.76 822.71L1730.41 821.49L1732.06 820.28L1733.71 819.07L1735.36 817.87L1737.01 816.68L1738.66 815.49L1740.31 814.31L1741.96 813.14L1743.61 811.98L1745.26 810.84L1746.91 809.70L1748.56 808.54L1750.21 807.39L1751.86 806.22L1753.51 805.06L1755.16 803.90L1756.81 802.74L1758.46 801.60L1760.11 800.47L1761.76 799.36L1763.41 798.27L1765.06 797.21L1766.71 796.18L1768.36 795.18L1770.01 794.22L1771.66 793.31L1773.31 792.51L1774.96 791.79L1776.61 791.13L1778.26 790.52L1779.91 789.94L1781.56 789.36L1783.21 788.76L1784.86 788.13L1786.51 787.45L1788.16 785.63L1789.81 783.35L1791.46 781.08L1793.11 778.80L1794.76 776.52L1796.41 774.24L1798.06 771.95L1799.71 769.64L1801.36 767.33L1803.01 765.00L1804.66 762.65L1806.31 760.27L1807.96 757.88L1809.61 755.45L1811.26 753.00L1812.91 750.52L1814.56 748.04L1816.21 745.56L1817.86 743.08L1819.51 740.60L1821.16 738.11L1822.81 735.63L1824.46 733.15L1826.11 730.67L1827.76 728.19L1829.41 725.71L1831.06 723.23L1832.71 720.75L1834.36 718.27L1836.01 715.79L1837.66 713.31L1839.31 710.84L1840.96 708.39L1842.61 705.94L1844.26 703.50L1845.91 701.08L1847.56 698.66L1849.21 696.25L1850.86 693.84L1852.51 691.45L1854.16 689.06L1855.81 686.68L1857.46 684.30L1859.11 681.93L1860.76 679.57L1862.41 677.21L1864.06 674.86L1865.71 672.51L1867.36 670.16L1869.01 667.82L1870.66 665.48L1872.31 663.14L1873.96 660.80L1875.61 658.47L1877.26 656.14L1878.91 653.80L1880.56 651.47L1882.21 649.14L1883.86 646.81L1885.51 644.47L1887.16 642.14L1888.81 639.80L1890.46 637.47L1892.11 635.12L1893.76 632.78L1895.41 630.43L1897.06 628.08L1898.71 625.73L1900.36 623.37L1902.01 621.00L1903.66 618.63L1905.31 616.27L1906.96 613.91L1908.61 611.55L1910.26 609.20L1911.91 606.85L1913.56 604.50L1915.21 602.15L1916.86 599.80L1918.51 597.46L1920.16 595.11L1921.81 592.77L1923.46 590.43L1925.11 588.09L1926.76 585.74L1928.41 583.40L1930.06 581.06L1931.71 578.71L1933.36 576.37L1935.01 574.02L1936.66 571.67L1938.31 569.32L1939.96 566.96L1941.61 564.60L1943.26 562.24L1944.91 559.88L1946.56 557.51L1948.21 555.14L1949.86 552.77L1951.51 550.39L1953.16 548.00L1954.81 545.61L1956.46 543.21L1958.11 540.81L1959.76 538.40L1961.41 535.99L1963.06 533.57L1964.71 531.14L1966.36 528.70L1968.01 526.26L1969.66 523.81L1971.31 521.36L1972.96 518.91L1974.61 516.46L1976.26 514.01L1977.91 511.56L1979.56 509.11L1981.21 506.66L1982.86 504.20L1984.51 501.75L1986.16 499.30L1987.81 496.84L1989.46 494.39L1991.11 491.93L1992.76 489.48L1994.41 487.02L1996.06 484.56L1997.71 482.10L1999.36 479.64L2001.01 477.18L2002.66 474.72L2004.31 472.26L2005.96 469.80L2007.60 467.33L2009.25 464.87L2010.90 462.40L2012.55 459.94L2014.20 457.47L2015.85 455.00L2017.50 452.53L2019.15 450.06L2020.80 447.59L2022.45 445.12L2024.10 442.65L2025.75 440.17L2027.40 437.70L2029.05 435.22L2030.70 432.75L2032.35 430.27L2034.00 427.79L2035.65 425.31L2037.30 422.82L2038.95 420.34L2040.60 417.85L2042.25 415.36L2043.90 412.88L2045.55 410.38L2047.20 407.89L2048.85 405.40L2050.50 402.90L2052.15 400.41L2053.80 397.91L2055.45 395.41L2057.10 392.91L2058.75 390.41L2060.40 387.90L2062.05 385.40L2063.70 382.89L2065.35 380.38L2067.00 377.88L2068.65 375.37L2070.30 372.86L2071.95 370.35L2073.60 367.83L2075.25 365.32L2076.90 362.81L2078.55 360.29L2080.20 357.78L2081.85 355.26L2083.50 352.74L2085.15 350.22L2086.80 347.71L2088.45 345.19L2090.10 342.67L2091.75 340.14L2093.40 337.62L2095.05 335.10L2096.70 332.58L2098.35 330.06L2100.00 327.53L2101.65 325.01L2103.30 322.48L2104.95 319.96L2106.60 317.43L2108.25 314.91L2109.90 312.38L2111.55 309.86L2113.20 307.33L2114.85 304.80L2116.50 302.28L2118.15 299.75L2119.80 297.21L2121.45 294.66L2123.10 292.11L2124.75 289.54L2126.40 286.97L2128.05 284.40L2129.70 281.82L2131.35 279.23L2133.00 276.64L2134.65 274.04L2136.30 271.44L2137.95 268.84L2139.60 266.24L2141.25 263.63L2142.90 261.02L2144.55 258.41L2146.20 255.80L2147.85 253.19L2149.50 250.58L2151.15 247.98L2152.80 245.37L2154.45 242.76L2156.10 240.16L2157.75 237.56L2159.40 234.97L2161.05 232.38L2162.70 229.79L2164.35 227.21L2166.00 224.64L2167.65 222.07L2169.30 219.51L2170.95 216.96L2172.60 214.41L2174.25 211.87L2175.90 209.35L2177.55 206.83L2179.20 204.32L2180.85 201.82L2182.50 199.33L2184.15 196.86L2185.80 194.40L2187.45 191.96L2189.10 189.54L2190.75 187.12L2192.40 184.72L2194.05 182.34L2195.70 179.96L2197.35 177.60L2199.00 175.25L2200.65 172.91L2202.30 170.58L2203.95 168.25L2205.60 165.94L2207.25 163.63L2208.90 161.32L2210.55 159.03L2212.20 156.73L2213.85 154.45L2215.50 152.16L2217.15 149.88L2218.80 147.60L2220.45 145.33L2222.10 143.05L2223.75 140.77L2225.40 138.50L2227.05 136.22L2228.70 133.94L2230.35 131.66L2232.00 129.37L2233.65 127.09L2235.30 124.81L2236.95 122.54L2238.60 120.27L2240.25 118.01L2241.90 115.76L2243.55 113.51L2245.20 111.27L2246.85 109.03L2248.50 106.80L2250.15 104.57L2251.80 102.35L2253.45 100.14L2255.10 97.93L2256.75 95.72L2258.40 93.52L2260.05 91.32L2261.70 89.13L2263.35 86.94L2265.00 84.76L2266.65 82.58L2268.30 80.41L2269.95 78.24L2271.60 76.07L2273.25 73.91L2274.90 71.75L2276.55 69.59L2278.20 67.44" stroke="#00ff00" stroke-dasharray="39.2 39.34"/><path d="M303.50 1165.64L1127.67 1165.64L1787.00 793.93L2281.50 50.50" stroke="#000000" stroke-dasharray="9.61 10.0"/></g><rect x="535.00" y="505.50" width="502.50" height="372.40" fill="#fff"/><path d="M535.00 691.70H1037.50" stroke="#262626" stroke-opacity="0.17" stroke-width="2.5" fill="none"/><path d="M535.00 877.90h6M1037.50 877.90h-6M535.00 691.70h6M1037.50 691.70h-6M535.00 505.50h6M1037.50 505.50h-6" stroke="#262626" stroke-width="3" fill="none"/><rect x="535.00" y="505.50" width="502.50" height="372.40" stroke="#262626" stroke-width="3" fill="none"/><g fill="none" stroke-width="9.8" stroke-linejoin="round"><path d="M535.00 829.02L536.00 830.72L537.01 832.43L538.01 834.14L539.02 835.86L540.02 837.58L541.03 839.30L542.03 841.03L543.04 842.77L544.04 844.50L545.05 846.25L546.05 848.04L547.06 849.92L548.07 851.83L549.07 853.74L550.08 855.62L551.08 857.42L552.09 859.11L553.09 860.64L554.10 862.00L555.10 863.26L556.11 864.47L557.11 865.61L558.12 866.68L559.12 867.66L560.12 868.54L561.13 869.31L562.13 869.99L563.14 870.66L564.14 871.30L565.15 871.93L566.15 872.53L567.16 873.10L568.16 873.64L569.17 874.15L570.17 874.61L571.18 875.04L572.18 875.41L573.19 875.74L574.20 876.01L575.20 876.22L576.21 876.37L577.21 876.51L578.22 876.65L579.22 876.78L580.23 876.90L581.23 877.02L582.24 877.14L583.24 877.24L584.25 877.34L585.25 877.43L586.25 877.52L587.26 877.59L588.26 877.66L589.27 877.72L590.27 877.78L591.28 877.82L592.28 877.85L593.29 877.88L594.29 877.89L595.30 877.90L596.30 877.90L597.31 877.90L598.32 877.90L599.32 877.90L600.33 877.90L601.33 877.90L602.34 877.90L603.34 877.90L604.35 877.90L605.35 877.90L606.36 877.90L607.36 877.90L608.37 877.90L609.37 877.90L610.38 877.90L611.38 877.90L612.38 877.90L613.39 877.90L614.39 877.90L615.40 877.90L616.40 877.90L617.41 877.90L618.41 877.90L619.42 877.90L620.42 877.90L621.43 877.90L622.43 877.90L623.44 877.90L624.44 877.90L625.45 877.90L626.46 877.90L627.46 877.90L628.47 877.90L629.47 877.90L630.48 877.90L631.48 877.90L632.49 877.90L633.49 877.90L634.50 877.90L635.50 877.90L636.50 877.90L637.51 877.90L638.51 877.90L639.52 877.90L640.52 877.90L641.53 877.90L642.53 877.90L643.54 877.90L644.54 877.90L645.55 877.90L646.56 877.90L647.56 877.90L648.57 877.90L649.57 877.90L650.58 877.90L651.58 877.90L652.59 877.90L653.59 877.90L654.60 877.90L655.60 877.90L656.61 877.90L657.61 877.90L658.62 877.90L659.62 877.90L660.62 877.90L661.63 877.90L662.63 877.90L663.64 877.90L664.64 877.90L665.65 877.90L666.65 877.90L667.66 877.90L668.66 877.90L669.67 877.90L670.67 877.90L671.68 877.90L672.68 877.90L673.69 877.90L674.69 877.90L675.70 877.90L676.71 877.90L677.71 877.90L678.72 877.90L679.72 877.90L680.73 877.90L681.73 877.90L682.74 877.90L683.74 877.90L684.75 877.90L685.75 877.90L686.75 877.90L687.76 877.90L688.76 877.90L689.77 877.90L690.77 877.90L691.78 877.90L692.78 877.90L693.79 877.90L694.79 877.90L695.80 877.90L696.81 877.90L697.81 877.90L698.82 877.90L699.82 877.90L700.83 877.90L701.83 877.90L702.84 877.90L703.84 877.90L704.85 877.90L705.85 877.90L706.86 877.90L707.86 877.90L708.87 877.90L709.87 877.90L710.88 877.90L711.88 877.90L712.88 877.90L713.89 877.90L714.89 877.90L715.90 877.90L716.90 877.90L717.91 877.90L718.91 877.90L719.92 877.90L720.92 877.90L721.93 877.90L722.93 877.90L723.94 877.90L724.94 877.90L725.95 877.90L726.96 877.90L727.96 877.90L728.97 877.90L729.97 877.90L730.98 877.90L731.98 877.90L732.99 877.90L733.99 877.90L735.00 877.90L736.00 877.90L737.00 877.90L738.01 877.90L739.01 877.90L740.02 877.90L741.02 877.90L742.03 877.90L743.03 877.90L744.04 877.90L745.04 877.90L746.05 877.90L747.06 877.90L748.06 877.90L749.07 877.90L750.07 877.90L751.08 877.90L752.08 877.90L753.09 877.90L754.09 877.90L755.10 877.90L756.10 877.90L757.11 877.90L758.11 877.90L759.12 877.90L760.12 877.90L761.12 877.90L762.13 877.90L763.13 877.90L764.14 877.90L765.14 877.90L766.15 877.90L767.15 877.90L768.16 877.90L769.16 877.90L770.17 877.90L771.17 877.90L772.18 877.90L773.18 877.90L774.19 877.90L775.19 877.90L776.20 877.90L777.21 877.90L778.21 877.90L779.22 877.90L780.22 877.90L781.23 877.90L782.23 877.90L783.24 877.90L784.24 877.90L785.25 877.90L786.25 877.90L787.25 877.90L788.26 877.90L789.26 877.90L790.27 877.90L791.27 877.90L792.28 877.90L793.29 877.90L794.29 877.90L795.30 877.90L796.30 877.90L797.31 877.90L798.31 877.90L799.32 877.90L800.32 877.90L801.33 877.90L802.33 877.90L803.34 877.90L804.34 877.90L805.35 877.90L806.35 877.90L807.36 877.90L808.36 877.90L809.37 877.90L810.37 877.90L811.38 877.90L812.38 877.90L813.38 877.90L814.39 877.90L815.39 877.90L816.40 877.90L817.40 877.90L818.41 877.90L819.41 877.90L820.42 877.90L821.42 877.90L822.43 877.90L823.43 877.90L824.44 877.90L825.44 877.90L826.45 877.90L827.45 877.90L828.46 877.90L829.46 877.90L830.47 877.90L831.48 877.90L832.48 877.90L833.49 877.90L834.49 877.90L835.50 877.90L836.50 877.90L837.50 877.90L838.51 877.90L839.51 877.90L840.52 877.90L841.52 877.90L842.53 877.90L843.54 877.90L844.54 877.90L845.55 877.90L846.55 877.90L847.56 877.90L848.56 877.90L849.57 877.90L850.57 877.90L851.58 877.90L852.58 877.90L853.59 877.90L854.59 877.90L855.60 877.90L856.60 877.90L857.61 877.90L858.61 877.90L859.62 877.90L860.62 877.90L861.62 877.90L862.63 877.90L863.63 877.90L864.64 877.90L865.64 877.90L866.65 877.90L867.65 877.90L868.66 877.90L869.66 877.90L870.67 877.90L871.67 877.90L872.68 877.90L873.68 877.90L874.69 877.90L875.69 877.90L876.70 877.90L877.70 877.90L878.71 877.90L879.71 877.90L880.72 877.90L881.73 877.90L882.73 877.90L883.74 877.90L884.74 877.90L885.75 877.90L886.75 877.90L887.75 877.90L888.76 877.90L889.76 877.90L890.77 877.90L891.77 877.90L892.78 877.90L893.79 877.90L894.79 877.90L895.80 877.90L896.80 877.90L897.81 877.90L898.81 877.90L899.82 877.90L900.82 877.90L901.83 877.90L902.83 877.90L903.84 877.90L904.84 877.90L905.85 877.90L906.85 877.90L907.86 877.90L908.86 877.90L909.87 877.90L910.87 877.90L911.88 877.90L912.88 877.90L913.88 877.90L914.89 877.90L915.89 877.90L916.90 877.90L917.90 877.90L918.91 877.90L919.91 877.90L920.92 877.90L921.92 877.90L922.93 877.90L923.93 877.90L924.94 877.90L925.94 877.90L926.95 877.90L927.95 877.90L928.96 877.90L929.96 877.90L930.97 877.90L931.98 877.90L932.98 877.90L933.99 877.90L934.99 877.90L936.00 877.90L937.00 877.90L938.00 877.90L939.01 877.90L940.01 877.90L941.02 877.90L942.02 877.90L943.03 877.90L944.04 877.90L945.04 877.90L946.05 877.90L947.05 877.90L948.06 877.90L949.06 877.90L950.07 877.90L951.07 877.90L952.08 877.90L953.08 877.90L954.09 877.90L955.09 877.90L956.10 877.90L957.10 877.90L958.11 877.90L959.11 877.90L960.12 877.90L961.12 877.90L962.12 877.90L963.13 877.90L964.13 877.90L965.14 877.90L966.14 877.90L967.15 877.90L968.15 877.90L969.16 877.90L970.16 877.90L971.17 877.90L972.17 877.90L973.18 877.90L974.18 877.90L975.19 877.90L976.19 877.90L977.20 877.90L978.20 877.90L979.21 877.90L980.21 877.90L981.22 877.90L982.23 877.90L983.23 877.90L984.24 877.90L985.24 877.90L986.25 877.90L987.25 877.90L988.25 877.90L989.26 877.90L990.26 877.90L991.27 877.90L992.27 877.90L993.28 877.90L994.29 877.90L995.29 877.90L996.30 877.90L997.30 877.90L998.31 877.90L999.31 877.90L1000.32 877.90L1001.32 877.90L1002.33 877.90L1003.33 877.90L1004.34 877.90L1005.34 877.90L1006.35 877.90L1007.35 877.90L1008.36 877.90L1009.36 877.90L1010.37 877.90L1011.37 877.90L1012.38 877.90L1013.38 877.90L1014.38 877.90L1015.39 877.90L1016.39 877.90L1017.40 877.90L1018.40 877.90L1019.41 877.90L1020.41 877.90L1021.42 877.90L1022.42 877.90L1023.43 877.90L1024.43 877.90L1025.44 877.90L1026.44 877.90L1027.45 877.90L1028.45 877.90L1029.46 877.90L1030.46 877.90L1031.47 877.90L1032.47 877.90L1033.48 877.90L1034.49 877.90L1035.49 877.90L1036.49 877.90L1037.50 877.90" stroke="#ff0000" stroke-dasharray="38.6 10.7 17.9 10.7"/><path d="M535.00 791.32L536.00 793.35L537.01 795.36L538.01 797.35L539.02 799.31L540.02 801.25L541.03 803.16L542.03 805.04L543.04 806.91L544.04 808.74L545.05 810.55L546.05 812.33L547.06 814.14L548.07 815.97L549.07 817.80L550.08 819.61L551.08 821.38L552.09 823.08L553.09 824.69L554.10 826.19L555.10 827.57L556.11 828.79L557.11 829.94L558.12 831.06L559.12 832.14L560.12 833.18L561.13 834.16L562.13 835.09L563.14 835.96L564.14 836.76L565.15 837.49L566.15 838.13L567.16 838.70L568.16 839.19L569.17 839.67L570.17 840.14L571.18 840.58L572.18 841.01L573.19 841.41L574.20 841.80L575.20 842.17L576.21 842.51L577.21 842.83L578.22 843.13L579.22 843.41L580.23 843.66L581.23 843.88L582.24 844.07L583.24 844.24L584.25 844.38L585.25 844.51L586.25 844.62L587.26 844.73L588.26 844.83L589.27 844.93L590.27 845.02L591.28 845.10L592.28 845.19L593.29 845.26L594.29 845.33L595.30 845.40L596.30 845.47L597.31 845.53L598.32 845.59L599.32 845.65L600.33 845.71L601.33 845.77L602.34 845.82L603.34 845.88L604.35 845.93L605.35 845.99L606.36 846.05L607.36 846.11L608.37 846.17L609.37 846.23L610.38 846.29L611.38 846.35L612.38 846.42L613.39 846.48L614.39 846.54L615.40 846.60L616.40 846.66L617.41 846.72L618.41 846.78L619.42 846.84L620.42 846.90L621.43 846.96L622.43 847.02L623.44 847.07L624.44 847.13L625.45 847.19L626.46 847.24L627.46 847.30L628.47 847.36L629.47 847.41L630.48 847.47L631.48 847.52L632.49 847.57L633.49 847.63L634.50 847.68L635.50 847.73L636.50 847.79L637.51 847.84L638.51 847.89L639.52 847.94L640.52 848.00L641.53 848.05L642.53 848.10L643.54 848.15L644.54 848.20L645.55 848.25L646.56 848.30L647.56 848.35L648.57 848.40L649.57 848.45L650.58 848.50L651.58 848.55L652.59 848.60L653.59 848.65L654.60 848.69L655.60 848.74L656.61 848.79L657.61 848.83L658.62 848.88L659.62 848.92L660.62 848.97L661.63 849.01L662.63 849.06L663.64 849.10L664.64 849.14L665.65 849.19L666.65 849.23L667.66 849.27L668.66 849.31L669.67 849.35L670.67 849.40L671.68 849.44L672.68 849.48L673.69 849.52L674.69 849.56L675.70 849.60L676.71 849.65L677.71 849.69L678.72 849.73L679.72 849.77L680.73 849.82L681.73 849.86L682.74 849.90L683.74 849.95L684.75 849.99L685.75 850.03L686.75 850.08L687.76 850.12L688.76 850.17L689.77 850.22L690.77 850.26L691.78 850.31L692.78 850.36L693.79 850.41L694.79 850.46L695.80 850.51L696.81 850.56L697.81 850.61L698.82 850.66L699.82 850.71L700.83 850.77L701.83 850.82L702.84 850.87L703.84 850.93L704.85 850.98L705.85 851.04L706.86 851.09L707.86 851.15L708.87 851.21L709.87 851.26L710.88 851.32L711.88 851.38L712.88 851.43L713.89 851.49L714.89 851.55L715.90 851.60L716.90 851.66L717.91 851.72L718.91 851.78L719.92 851.83L720.92 851.89L721.93 851.95L722.93 852.00L723.94 852.06L724.94 852.12L725.95 852.17L726.96 852.23L727.96 852.29L728.97 852.35L729.97 852.40L730.98 852.46L731.98 852.52L732.99 852.58L733.99 852.63L735.00 852.69L736.00 852.75L737.00 852.81L738.01 852.86L739.01 852.92L740.02 852.98L741.02 853.04L742.03 853.10L743.03 853.15L744.04 853.21L745.04 853.27L746.05 853.33L747.06 853.39L748.06 853.45L749.07 853.50L750.07 853.56L751.08 853.62L752.08 853.68L753.09 853.74L754.09 853.80L755.10 853.85L756.10 853.91L757.11 853.97L758.11 854.03L759.12 854.09L760.12 854.15L761.12 854.21L762.13 854.27L763.13 854.33L764.14 854.38L765.14 854.44L766.15 854.50L767.15 854.56L768.16 854.62L769.16 854.68L770.17 854.74L771.17 854.80L772.18 854.86L773.18 854.92L774.19 854.98L775.19 855.04L776.20 855.10L777.21 855.16L778.21 855.22L779.22 855.28L780.22 855.34L781.23 855.40L782.23 855.46L783.24 855.52L784.24 855.58L785.25 855.64L786.25 855.70L787.25 855.76L788.26 855.82L789.26 855.88L790.27 855.94L791.27 856.00L792.28 856.06L793.29 856.12L794.29 856.18L795.30 856.24L796.30 856.30L797.31 856.36L798.31 856.42L799.32 856.48L800.32 856.54L801.33 856.60L802.33 856.67L803.34 856.73L804.34 856.79L805.35 856.85L806.35 856.91L807.36 856.97L808.36 857.03L809.37 857.09L810.37 857.15L811.38 857.22L812.38 857.28L813.38 857.34L814.39 857.40L815.39 857.46L816.40 857.52L817.40 857.58L818.41 857.65L819.41 857.71L820.42 857.77L821.42 857.83L822.43 857.89L823.43 857.95L824.44 858.02L825.44 858.08L826.45 858.14L827.45 858.20L828.46 858.26L829.46 858.33L830.47 858.39L831.48 858.45L832.48 858.51L833.49 858.58L834.49 858.64L835.50 858.70L836.50 858.76L837.50 858.83L838.51 858.89L839.51 858.95L840.52 859.01L841.52 859.08L842.53 859.14L843.54 859.20L844.54 859.26L845.55 859.33L846.55 859.39L847.56 859.45L848.56 859.52L849.57 859.58L850.57 859.64L851.58 859.70L852.58 859.77L853.59 859.83L854.59 859.89L855.60 859.96L856.60 860.02L857.61 860.08L858.61 860.15L859.62 860.21L860.62 860.27L861.62 860.34L862.63 860.40L863.63 860.47L864.64 860.53L865.64 860.59L866.65 860.66L867.65 860.72L868.66 860.78L869.66 860.85L870.67 860.91L871.67 860.98L872.68 861.04L873.68 861.10L874.69 861.17L875.69 861.23L876.70 861.30L877.70 861.36L878.71 861.43L879.71 861.49L880.72 861.55L881.73 861.62L882.73 861.68L883.74 861.75L884.74 861.81L885.75 861.88L886.75 861.94L887.75 862.01L888.76 862.07L889.76 862.14L890.77 862.20L891.77 862.27L892.78 862.33L893.79 862.40L894.79 862.46L895.80 862.53L896.80 862.59L897.81 862.66L898.81 862.72L899.82 862.79L900.82 862.85L901.83 862.92L902.83 862.98L903.84 863.05L904.84 863.12L905.85 863.18L906.85 863.25L907.86 863.31L908.86 863.38L909.87 863.44L910.87 863.51L911.88 863.58L912.88 863.64L913.88 863.71L914.89 863.77L915.89 863.84L916.90 863.91L917.90 863.97L918.91 864.04L919.91 864.11L920.92 864.17L921.92 864.24L922.93 864.31L923.93 864.37L924.94 864.44L925.94 864.51L926.95 864.57L927.95 864.64L928.96 864.71L929.96 864.77L930.97 864.84L931.98 864.91L932.98 864.97L933.99 865.04L934.99 865.11L936.00 865.18L937.00 865.24L938.00 865.31L939.01 865.38L940.01 865.45L941.02 865.51L942.02 865.58L943.03 865.65L944.04 865.72L945.04 865.78L946.05 865.85L947.05 865.92L948.06 865.99L949.06 866.05L950.07 866.12L951.07 866.19L952.08 866.26L953.08 866.33L954.09 866.40L955.09 866.46L956.10 866.53L957.10 866.60L958.11 866.67L959.11 866.74L960.12 866.81L961.12 866.87L962.12 866.94L963.13 867.01L964.13 867.08L965.14 867.15L966.14 867.22L967.15 867.29L968.15 867.36L969.16 867.42L970.16 867.49L971.17 867.56L972.17 867.63L973.18 867.70L974.18 867.77L975.19 867.84L976.19 867.91L977.20 867.98L978.20 868.05L979.21 868.12L980.21 868.19L981.22 868.26L982.23 868.33L983.23 868.40L984.24 868.47L985.24 868.54L986.25 868.61L987.25 868.68L988.25 868.75L989.26 868.82L990.26 868.89L991.27 868.96L992.27 869.03L993.28 869.10L994.29 869.17L995.29 869.24L996.30 869.31L997.30 869.38L998.31 869.45L999.31 869.52L1000.32 869.59L1001.32 869.66L1002.33 869.73L1003.33 869.81L1004.34 869.88L1005.34 869.95L1006.35 870.02L1007.35 870.09L1008.36 870.17L1009.36 870.24L1010.37 870.31L1011.37 870.38L1012.38 870.46L1013.38 870.53L1014.38 870.60L1015.39 870.68L1016.39 870.75L1017.40 870.82L1018.40 870.90L1019.41 870.97L1020.41 871.05L1021.42 871.12L1022.42 871.19L1023.43 871.27L1024.43 871.34L1025.44 871.42L1026.44 871.49L1027.45 871.57L1028.45 871.64L1029.46 871.72L1030.46 871.79L1031.47 871.86L1032.47 871.94L1033.48 872.01L1034.49 872.09L1035.49 872.16L1036.49 872.24L1037.50 872.31" stroke="#0000ff"/><path d="M535.00 546.46L536.00 548.51L537.01 550.57L538.01 552.64L539.02 554.71L540.02 556.79L541.03 558.88L542.03 560.97L543.04 563.07L544.04 565.18L545.05 567.29L546.05 569.41L547.06 571.54L548.07 573.68L549.07 575.82L550.08 577.97L551.08 580.14L552.09 582.42L553.09 584.78L554.10 587.23L555.10 589.72L556.11 592.25L557.11 594.78L558.12 597.30L559.12 599.79L560.12 602.23L561.13 604.58L562.13 606.84L563.14 608.98L564.14 610.97L565.15 612.81L566.15 614.46L567.16 615.90L568.16 617.16L569.17 618.37L570.17 619.53L571.18 620.65L572.18 621.72L573.19 622.74L574.20 623.71L575.20 624.64L576.21 625.52L577.21 626.34L578.22 627.12L579.22 627.85L580.23 628.53L581.23 629.15L582.24 629.73L583.24 630.25L584.25 630.73L585.25 631.18L586.25 631.60L587.26 631.99L588.26 632.35L589.27 632.70L590.27 633.02L591.28 633.34L592.28 633.64L593.29 633.94L594.29 634.23L595.30 634.53L596.30 634.83L597.31 635.13L598.32 635.44L599.32 635.77L600.33 636.11L601.33 636.45L602.34 636.78L603.34 637.12L604.35 637.45L605.35 637.78L606.36 638.11L607.36 638.44L608.37 638.77L609.37 639.10L610.38 639.43L611.38 639.75L612.38 640.08L613.39 640.41L614.39 640.73L615.40 641.06L616.40 641.38L617.41 641.71L618.41 642.03L619.42 642.36L620.42 642.68L621.43 643.01L622.43 643.34L623.44 643.66L624.44 643.99L625.45 644.32L626.46 644.65L627.46 644.98L628.47 645.31L629.47 645.64L630.48 645.98L631.48 646.31L632.49 646.65L633.49 646.99L634.50 647.32L635.50 647.67L636.50 648.01L637.51 648.35L638.51 648.70L639.52 649.05L640.52 649.40L641.53 649.75L642.53 650.10L643.54 650.46L644.54 650.81L645.55 651.17L646.56 651.52L647.56 651.88L648.57 652.24L649.57 652.60L650.58 652.96L651.58 653.33L652.59 653.69L653.59 654.05L654.60 654.42L655.60 654.79L656.61 655.15L657.61 655.52L658.62 655.89L659.62 656.26L660.62 656.63L661.63 657.00L662.63 657.38L663.64 657.75L664.64 658.13L665.65 658.50L666.65 658.88L667.66 659.25L668.66 659.63L669.67 660.01L670.67 660.39L671.68 660.77L672.68 661.15L673.69 661.53L674.69 661.91L675.70 662.29L676.71 662.68L677.71 663.06L678.72 663.45L679.72 663.84L680.73 664.24L681.73 664.63L682.74 665.03L683.74 665.43L684.75 665.83L685.75 666.23L686.75 666.63L687.76 667.03L688.76 667.43L689.77 667.84L690.77 668.24L691.78 668.65L692.78 669.05L693.79 669.46L694.79 669.86L695.80 670.27L696.81 670.67L697.81 671.08L698.82 671.48L699.82 671.88L700.83 672.28L701.83 672.69L702.84 673.09L703.84 673.48L704.85 673.88L705.85 674.28L706.86 674.67L707.86 675.06L708.87 675.45L709.87 675.84L710.88 676.23L711.88 676.61L712.88 676.99L713.89 677.37L714.89 677.74L715.90 678.11L716.90 678.48L717.91 678.84L718.91 679.20L719.92 679.56L720.92 679.91L721.93 680.26L722.93 680.61L723.94 680.96L724.94 681.31L725.95 681.66L726.96 682.01L727.96 682.36L728.97 682.71L729.97 683.06L730.98 683.41L731.98 683.76L732.99 684.11L733.99 684.47L735.00 684.82L736.00 685.18L737.00 685.55L738.01 685.91L739.01 686.29L740.02 686.66L741.02 687.04L742.03 687.42L743.03 687.81L744.04 688.20L745.04 688.60L746.05 689.01L747.06 689.42L748.06 689.84L749.07 690.27L750.07 690.70L751.08 691.16L752.08 691.62L753.09 692.09L754.09 692.57L755.10 693.05L756.10 693.55L757.11 694.05L758.11 694.56L759.12 695.07L760.12 695.59L761.12 696.12L762.13 696.64L763.13 697.17L764.14 697.71L765.14 698.24L766.15 698.77L767.15 699.31L768.16 699.84L769.16 700.38L770.17 700.91L771.17 701.44L772.18 701.97L773.18 702.49L774.19 703.01L775.19 703.53L776.20 704.03L777.21 704.54L778.21 705.03L779.22 705.52L780.22 706.00L781.23 706.47L782.23 706.93L783.24 707.38L784.24 707.82L785.25 708.25L786.25 708.66L787.25 709.07L788.26 709.47L789.26 709.85L790.27 710.23L791.27 710.60L792.28 710.97L793.29 711.32L794.29 711.67L795.30 712.02L796.30 712.36L797.31 712.70L798.31 713.04L799.32 713.37L800.32 713.70L801.33 714.03L802.33 714.36L803.34 714.69L804.34 715.02L805.35 715.35L806.35 715.68L807.36 716.01L808.36 716.35L809.37 716.70L810.37 717.04L811.38 717.39L812.38 717.75L813.38 718.12L814.39 718.49L815.39 718.87L816.40 719.26L817.40 719.65L818.41 720.06L819.41 720.48L820.42 720.90L821.42 721.35L822.43 721.80L823.43 722.26L824.44 722.74L825.44 723.22L826.45 723.71L827.45 724.22L828.46 724.73L829.46 725.24L830.47 725.77L831.48 726.30L832.48 726.84L833.49 727.38L834.49 727.92L835.50 728.47L836.50 729.03L837.50 729.58L838.51 730.14L839.51 730.70L840.52 731.26L841.52 731.82L842.53 732.38L843.54 732.94L844.54 733.49L845.55 734.05L846.55 734.60L847.56 735.15L848.56 735.69L849.57 736.23L850.57 736.77L851.58 737.29L852.58 737.82L853.59 738.33L854.59 738.84L855.60 739.33L856.60 739.82L857.61 740.30L858.61 740.77L859.62 741.24L860.62 741.70L861.62 742.15L862.63 742.60L863.63 743.04L864.64 743.47L865.64 743.91L866.65 744.34L867.65 744.76L868.66 745.19L869.66 745.61L870.67 746.03L871.67 746.45L872.68 746.86L873.68 747.28L874.69 747.70L875.69 748.12L876.70 748.54L877.70 748.97L878.71 749.39L879.71 749.82L880.72 750.25L881.73 750.69L882.73 751.12L883.74 751.57L884.74 752.02L885.75 752.48L886.75 752.94L887.75 753.41L888.76 753.88L889.76 754.37L890.77 754.86L891.77 755.36L892.78 755.87L893.79 756.39L894.79 756.92L895.80 757.46L896.80 758.01L897.81 758.56L898.81 759.12L899.82 759.69L900.82 760.26L901.83 760.84L902.83 761.43L903.84 762.02L904.84 762.61L905.85 763.20L906.85 763.80L907.86 764.40L908.86 765.00L909.87 765.61L910.87 766.21L911.88 766.81L912.88 767.42L913.88 768.02L914.89 768.62L915.89 769.22L916.90 769.82L917.90 770.41L918.91 771.01L919.91 771.59L920.92 772.17L921.92 772.75L922.93 773.32L923.93 773.89L924.94 774.45L925.94 775.00L926.95 775.54L927.95 776.08L928.96 776.61L929.96 777.14L930.97 777.66L931.98 778.18L932.98 778.70L933.99 779.21L934.99 779.72L936.00 780.22L937.00 780.72L938.00 781.22L939.01 781.72L940.01 782.22L941.02 782.71L942.02 783.21L943.03 783.70L944.04 784.20L945.04 784.69L946.05 785.19L947.05 785.69L948.06 786.18L949.06 786.68L950.07 787.18L951.07 787.69L952.08 788.19L953.08 788.70L954.09 789.22L955.09 789.73L956.10 790.25L957.10 790.78L958.11 791.31L959.11 791.85L960.12 792.39L961.12 792.93L962.12 793.49L963.13 794.05L964.13 794.61L965.14 795.18L966.14 795.76L967.15 796.34L968.15 796.92L969.16 797.51L970.16 798.11L971.17 798.70L972.17 799.30L973.18 799.90L974.18 800.51L975.19 801.11L976.19 801.72L977.20 802.33L978.20 802.94L979.21 803.55L980.21 804.16L981.22 804.77L982.23 805.38L983.23 805.98L984.24 806.59L985.24 807.19L986.25 807.79L987.25 808.39L988.25 808.99L989.26 809.58L990.26 810.17L991.27 810.76L992.27 811.34L993.28 811.91L994.29 812.48L995.29 813.05L996.30 813.61L997.30 814.16L998.31 814.71L999.31 815.26L1000.32 815.80L1001.32 816.34L1002.33 816.88L1003.33 817.42L1004.34 817.95L1005.34 818.48L1006.35 819.01L1007.35 819.54L1008.36 820.07L1009.36 820.59L1010.37 821.11L1011.37 821.63L1012.38 822.15L1013.38 822.67L1014.38 823.19L1015.39 823.71L1016.39 824.22L1017.40 824.74L1018.40 825.25L1019.41 825.77L1020.41 826.28L1021.42 826.80L1022.42 827.31L1023.43 827.83L1024.43 828.35L1025.44 828.86L1026.44 829.38L1027.45 829.90L1028.45 830.42L1029.46 830.94L1030.46 831.46L1031.47 831.98L1032.47 832.49L1033.48 833.01L1034.49 833.53L1035.49 834.04L1036.49 834.56L1037.50 835.07" stroke="#00ff00" stroke-dasharray="39.2 39.6"/><path d="M535.00 877.90L1037.50 877.90" stroke="#000000" stroke-dasharray="9.6 9.96"/></g><g font-family="Liberation Serif, Times New Roman, serif" font-size="62.5" fill="#262626"><text x="513" y="900.00" text-anchor="end">0</text><text x="513" y="713.80" text-anchor="end">20</text><text x="513" y="527.60" text-anchor="end">40</text><text x="535.00" y="956.6" text-anchor="middle">1000</text><text x="1037.50" y="956.6" text-anchor="middle">1500</text></g><text x="786" y="1035.5" text-anchor="middle" font-family="Liberation Serif, Times New Roman, serif" font-size="67" fill="#262626"><tspan font-style="italic">x</tspan>(m)</text><text transform="translate(421.2 690.2) rotate(-90)" text-anchor="middle" font-family="Liberation Serif, Times New Roman, serif" font-size="67" fill="#262626"><tspan font-style="italic">y</tspan>(m)</text><rect x="646.50" y="22.30" width="1378.90" height="350.80" fill="#fff" stroke="#262626" stroke-width="2.6"/><g fill="none" stroke-width="9.8"><path d="M663.6 71.00H817" stroke="#ff0000" stroke-dasharray="39.4 39.8"/><path d="M663.6 155.50H817" stroke="#0000ff"/><path d="M663.6 240.50H817" stroke="#00ff00" stroke-dasharray="39.4 39.8"/><path d="M663.6 325.10H817" stroke="#000000" stroke-dasharray="9.7 10.1"/></g><g font-family="Liberation Serif, Times New Roman, serif" font-size="73.7" fill="#000"><text x="826.7" y="96.60">2D-<tspan font-style="italic">y</tspan>OPSMC with disturbance observes</text><text x="826.7" y="181.60">2D-<tspan font-style="italic">y</tspan>SMC with disturbance observes</text><text x="826.7" y="266.60">2D-<tspan font-style="italic">y</tspan>SMC without disturbance observes</text><text x="826.7" y="351.60">2D-<tspan font-style="italic">y</tspan>Reference</text></g></svg></body></html>
